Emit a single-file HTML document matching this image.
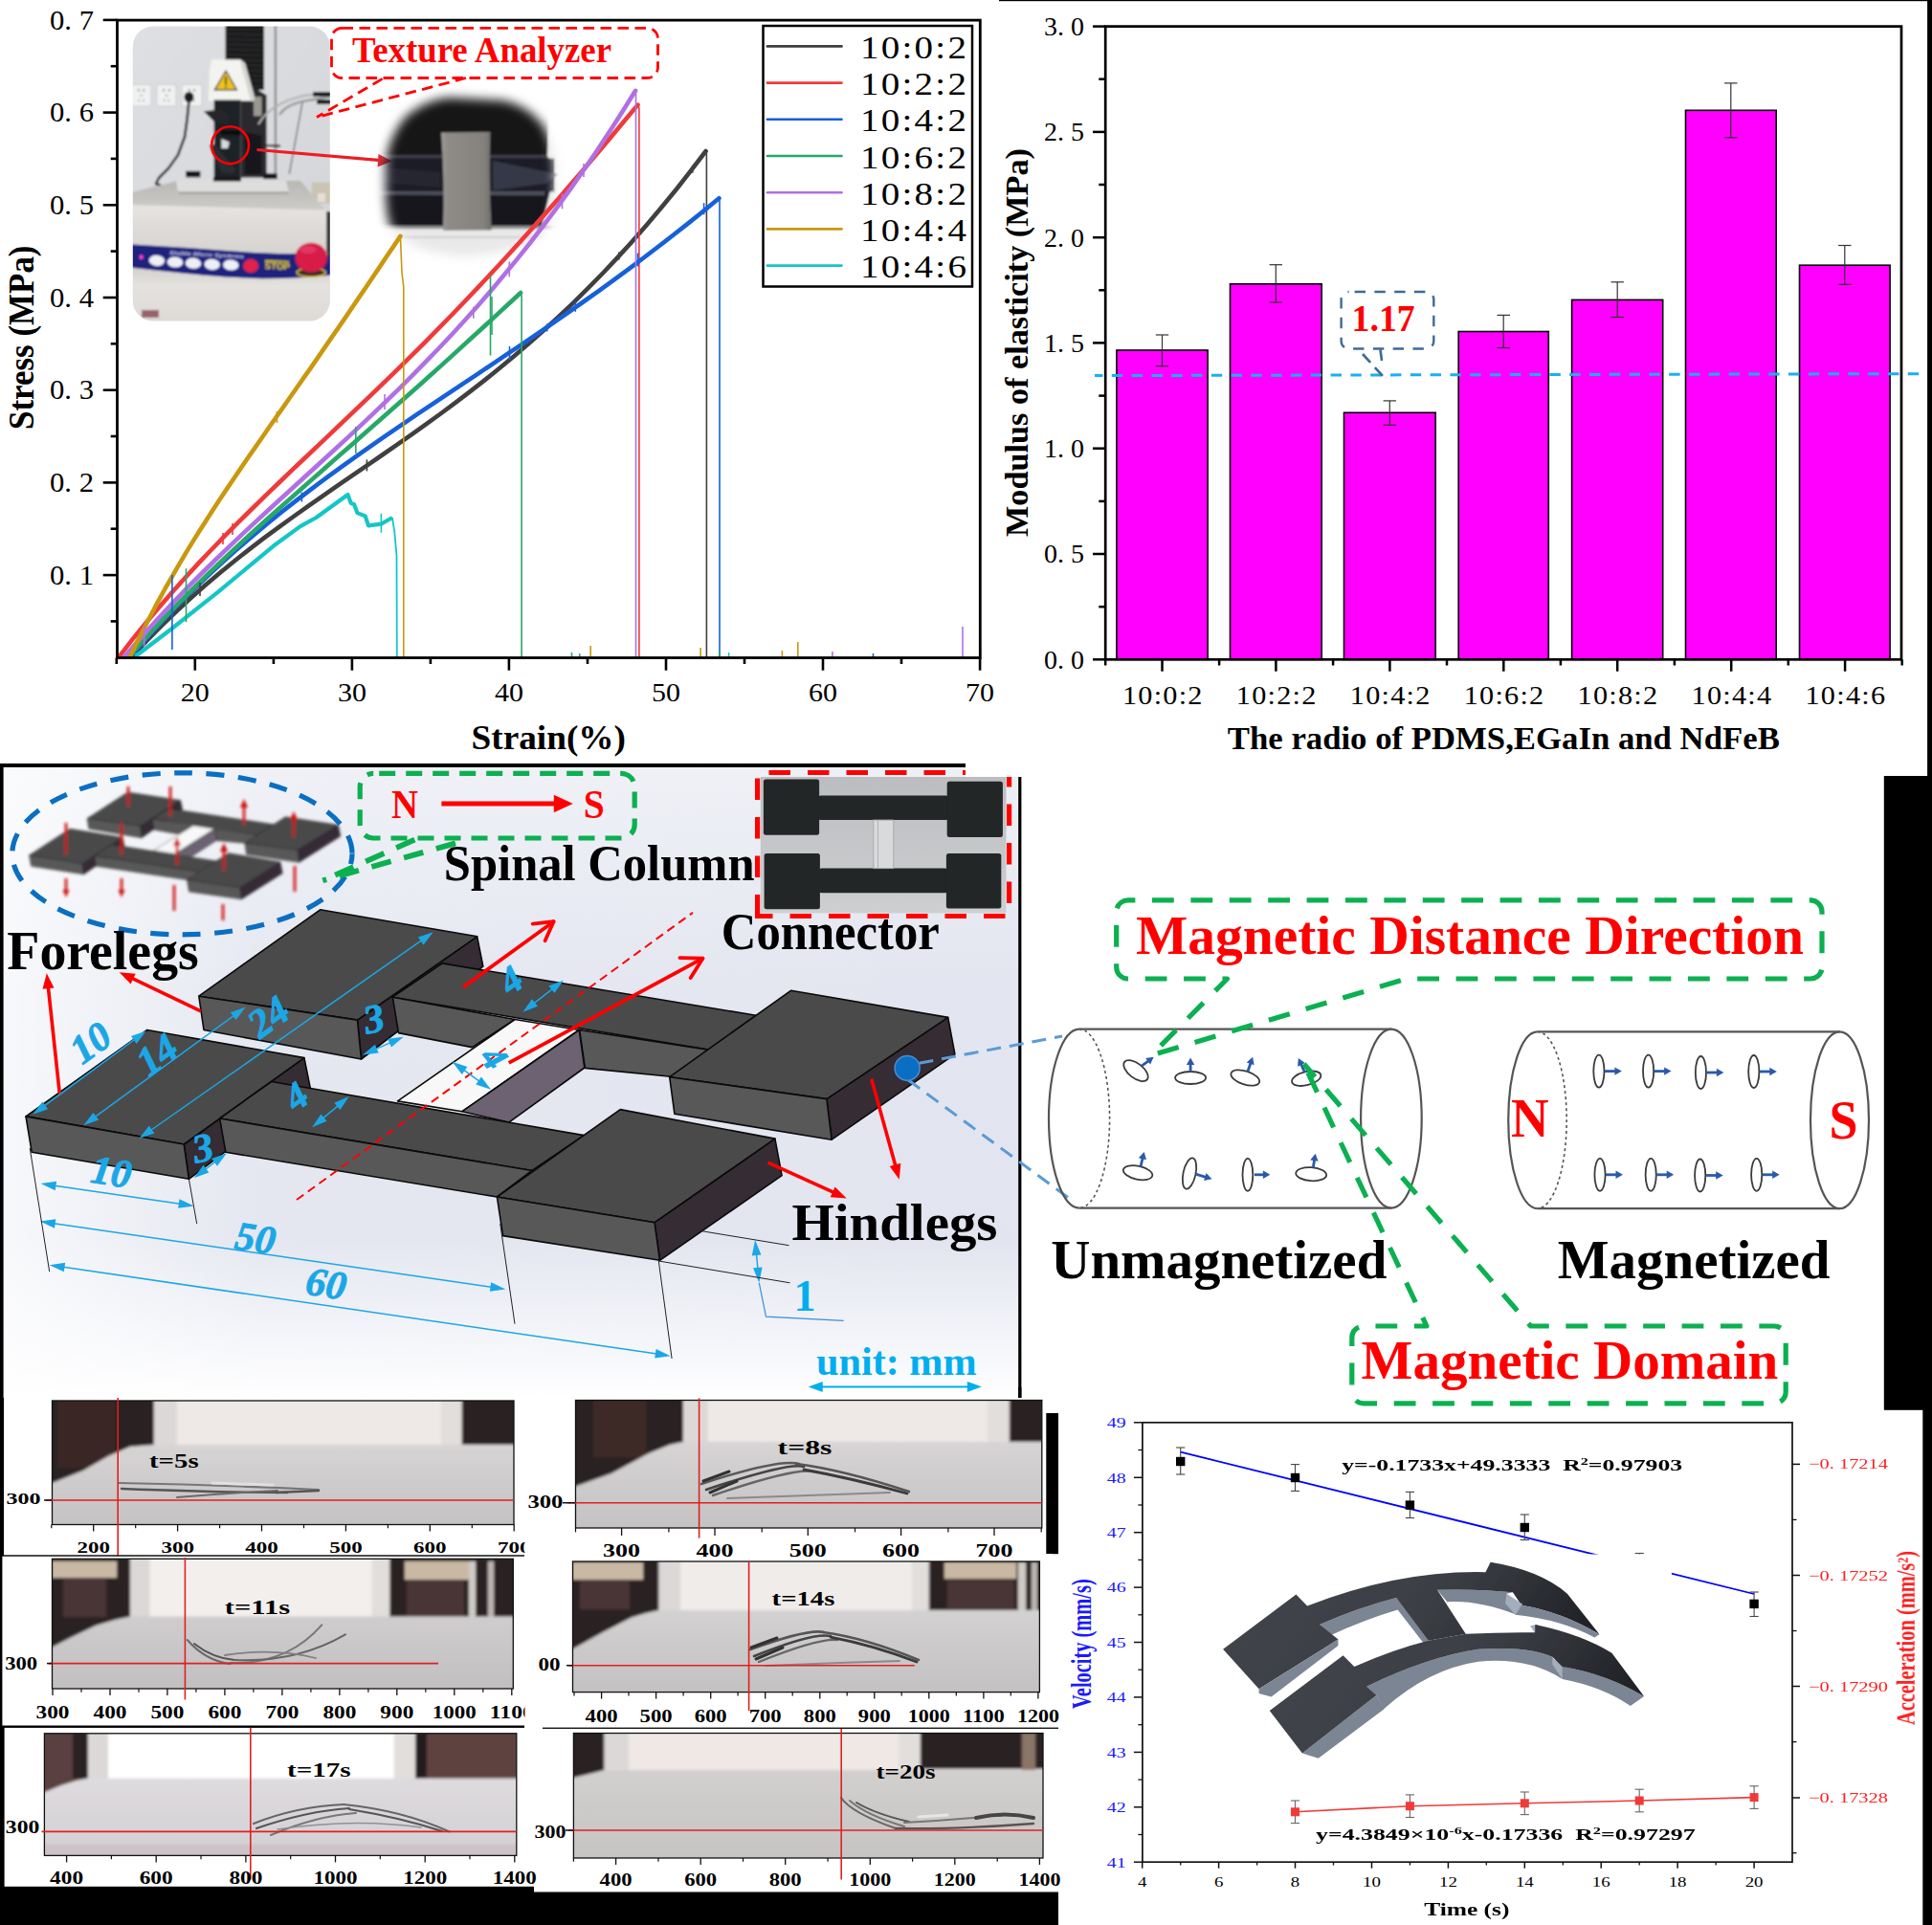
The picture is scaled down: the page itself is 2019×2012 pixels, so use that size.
<!DOCTYPE html>
<html><head><meta charset="utf-8"><title>figure</title>
<style>html,body{margin:0;padding:0;background:#fff}svg{display:block}text{font-family:"Liberation Serif",serif}</style>
</head><body>
<svg width="2019" height="2012" viewBox="0 0 2019 2012">
<defs>
<clipPath id="taclip"><rect x="138.8" y="27.6" width="206" height="307.9" rx="21" ry="21"/></clipPath>
<linearGradient id="tawall" x1="0" y1="0" x2="1" y2="1"><stop offset="0" stop-color="#dfe0e3"/><stop offset="1" stop-color="#d2d4d8"/></linearGradient>
<linearGradient id="tatop" x1="0" y1="0" x2="0" y2="1"><stop offset="0" stop-color="#b9b7b4"/><stop offset="1" stop-color="#cfcdca"/></linearGradient>
<linearGradient id="tafront" x1="0" y1="0" x2="0" y2="1"><stop offset="0" stop-color="#e6e4e2"/><stop offset="1" stop-color="#d4d1ce"/></linearGradient>
<linearGradient id="talow" x1="0" y1="0" x2="0" y2="1"><stop offset="0" stop-color="#d0cdca"/><stop offset="0.35" stop-color="#e4e2df"/><stop offset="1" stop-color="#dddad6"/></linearGradient>
<filter id="blurT" x="-5%" y="-5%" width="110%" height="110%"><feGaussianBlur stdDeviation="0.8"/></filter>
<filter id="blurO" x="-30%" y="-30%" width="160%" height="160%"><feGaussianBlur stdDeviation="5.5"/></filter>
<mask id="ovmask"><path d="M403,190 Q400,150 424,122 Q445,104 470,102 L526,105 Q556,112 570,135 Q582,160 580,190 Q580,225 570,240 Q555,262 489,268 Q430,266 408,238 Q402,220 403,190 Z" fill="#fff" filter="url(#blurO)"/></mask>
<filter id="blurO2" x="-10%" y="-10%" width="120%" height="120%"><feGaussianBlur stdDeviation="1.2"/></filter>
<linearGradient id="pbg" x1="0" y1="0" x2="0" y2="1"><stop offset="0" stop-color="#eef0f6"/><stop offset="0.35" stop-color="#e3e6f0"/><stop offset="0.75" stop-color="#e2e5ef"/><stop offset="0.93" stop-color="#f6f7fb"/><stop offset="1" stop-color="#ffffff"/></linearGradient>
<linearGradient id="pbg2" x1="0" y1="0" x2="1" y2="0"><stop offset="0" stop-color="#fff" stop-opacity="0.75"/><stop offset="0.25" stop-color="#fff" stop-opacity="0.1"/><stop offset="1" stop-color="#fff" stop-opacity="0"/></linearGradient>
<filter id="blur2" x="-10%" y="-10%" width="120%" height="120%"><feGaussianBlur stdDeviation="1.4"/></filter>
<filter id="blur6" x="-20%" y="-20%" width="140%" height="140%"><feGaussianBlur stdDeviation="5"/></filter>
<radialGradient id="ellfade" cx="0.5" cy="0.5" r="0.5"><stop offset="0.7" stop-color="#fff" stop-opacity="0"/><stop offset="1" stop-color="#f3f4f9" stop-opacity="1"/></radialGradient>
<filter id="blurS" x="-5%" y="-5%" width="110%" height="110%"><feGaussianBlur stdDeviation="0.7"/></filter>
<g id="robot"><path d="M373.5,1066.1 L498.6,978.8 L504.8,1010.0 L377.5,1107.0 Z" fill="#352c34" stroke="#0a0a0a" stroke-width="1.6" stroke-linejoin="round"/>
<path d="M207.8,1041.2 L334.6,950.8 L498.6,978.8 L373.5,1066.1 Z" fill="#4a4a4a" stroke="#0a0a0a" stroke-width="1.6" stroke-linejoin="round"/>
<path d="M207.8,1041.2 L373.5,1066.1 L377.5,1107.0 L213.0,1076.5 Z" fill="#585858" stroke="#0a0a0a" stroke-width="1.6" stroke-linejoin="round"/>
<path d="M410.3,1042.2 L462.2,1006.9 L790.0,1061.3 L739.9,1097.1 Z" fill="#4a4a4a" stroke="#0a0a0a" stroke-width="1.6" stroke-linejoin="round"/>
<path d="M410.3,1042.2 L538.1,1065.5 L493.4,1094.6 L416.5,1079.6 Z" fill="#585858" stroke="#0a0a0a" stroke-width="1.6" stroke-linejoin="round"/>
<path d="M605.6,1076.5 L739.9,1097.1 L701.2,1125.3 L611.4,1116.4 Z" fill="#585858" stroke="#0a0a0a" stroke-width="1.6" stroke-linejoin="round"/>
<path d="M863.9,1148.6 L990.7,1063.4 L997.9,1101.8 L869.1,1191.2 Z" fill="#352c34" stroke="#0a0a0a" stroke-width="1.6" stroke-linejoin="round"/>
<path d="M699.7,1125.7 L826.5,1035.3 L990.7,1063.4 L863.9,1148.6 Z" fill="#4a4a4a" stroke="#0a0a0a" stroke-width="1.6" stroke-linejoin="round"/>
<path d="M699.7,1125.7 L863.9,1148.6 L869.1,1191.2 L704.9,1164.2 Z" fill="#585858" stroke="#0a0a0a" stroke-width="1.6" stroke-linejoin="round"/>
<path d="M538.1,1065.5 L605.2,1076.5 L483.0,1161.7 L415.5,1150.9 Z" fill="#f8f8f8" stroke="#0a0a0a" stroke-width="1.6" stroke-linejoin="round"/>
<path d="M605.2,1076.5 L610.8,1116.0 L531.8,1173.1 L483.0,1161.7 Z" fill="#6c6272" stroke="#0a0a0a" stroke-width="1.6" stroke-linejoin="round"/>
<path d="M192.2,1196.0 L317.9,1105.6 L324.2,1136.8 L197.4,1232.3 Z" fill="#352c34" stroke="#0a0a0a" stroke-width="1.6" stroke-linejoin="round"/>
<path d="M27.0,1166.9 L153.8,1076.5 L317.9,1105.6 L192.2,1196.0 Z" fill="#4a4a4a" stroke="#0a0a0a" stroke-width="1.6" stroke-linejoin="round"/>
<path d="M27.0,1166.9 L192.2,1196.0 L197.4,1232.3 L33.2,1204.3 Z" fill="#585858" stroke="#0a0a0a" stroke-width="1.6" stroke-linejoin="round"/>
<path d="M229.6,1169.0 L283.6,1130.5 L610.2,1186.6 L556.0,1223.5 Z" fill="#4a4a4a" stroke="#0a0a0a" stroke-width="1.6" stroke-linejoin="round"/>
<path d="M229.6,1169.0 L556.0,1223.5 L519.4,1251.0 L235.9,1204.3 Z" fill="#585858" stroke="#0a0a0a" stroke-width="1.6" stroke-linejoin="round"/>
<path d="M684.0,1277.7 L809.9,1190.1 L817.1,1228.6 L689.5,1317.3 Z" fill="#352c34" stroke="#0a0a0a" stroke-width="1.6" stroke-linejoin="round"/>
<path d="M519.4,1251.0 L648.2,1159.6 L809.9,1190.1 L684.0,1277.7 Z" fill="#4a4a4a" stroke="#0a0a0a" stroke-width="1.6" stroke-linejoin="round"/>
<path d="M519.4,1251.0 L684.0,1277.7 L689.5,1317.3 L525.6,1291.6 Z" fill="#585858" stroke="#0a0a0a" stroke-width="1.6" stroke-linejoin="round"/></g>
<filter id="blurP" x="-5%" y="-10%" width="110%" height="120%"><feGaussianBlur stdDeviation="1.6"/></filter>
<filter id="blurR" x="-5%" y="-20%" width="110%" height="140%"><feGaussianBlur stdDeviation="0.6"/></filter>
<linearGradient id="archdk" x1="0" y1="0" x2="1" y2="0.25"><stop offset="0" stop-color="#43464c"/><stop offset="0.6" stop-color="#3b3e44"/><stop offset="0.85" stop-color="#2c2e33"/><stop offset="1" stop-color="#222428"/></linearGradient>
</defs>
<rect width="2019" height="2012" fill="#fff"/>
<g id="p0_photo">
<g clip-path="url(#taclip)"><g filter="url(#blurT)">
<rect x="130.0" y="20.0" width="225.0" height="325.0" fill="url(#tawall)" />
<rect x="137" y="88.4" width="21" height="22.6" fill="#f0f1f1" stroke="#c4c6c8" stroke-width="0.8"/>
<rect x="144.0" y="93.0" width="1.5" height="2.5" fill="#777" />
<rect x="149.5" y="93.0" width="1.5" height="2.5" fill="#777" />
<rect x="146.8" y="99.0" width="1.4" height="2.0" fill="#888" />
<rect x="144.5" y="104.0" width="1.4" height="2.0" fill="#999" />
<rect x="149.1" y="104.0" width="1.4" height="2.0" fill="#999" />
<rect x="164" y="88.4" width="20" height="22.6" fill="#f0f1f1" stroke="#c4c6c8" stroke-width="0.8"/>
<rect x="170.5" y="93.0" width="1.5" height="2.5" fill="#777" />
<rect x="176.0" y="93.0" width="1.5" height="2.5" fill="#777" />
<rect x="173.3" y="99.0" width="1.4" height="2.0" fill="#888" />
<rect x="171.0" y="104.0" width="1.4" height="2.0" fill="#999" />
<rect x="175.6" y="104.0" width="1.4" height="2.0" fill="#999" />
<rect x="190" y="88.4" width="21" height="22.6" fill="#f0f1f1" stroke="#c4c6c8" stroke-width="0.8"/>
<rect x="197.0" y="93.0" width="1.5" height="2.5" fill="#777" />
<rect x="202.5" y="93.0" width="1.5" height="2.5" fill="#777" />
<rect x="199.8" y="99.0" width="1.4" height="2.0" fill="#888" />
<rect x="197.5" y="104.0" width="1.4" height="2.0" fill="#999" />
<rect x="202.1" y="104.0" width="1.4" height="2.0" fill="#999" />
<ellipse cx="197.5" cy="101.5" rx="5" ry="5.5" fill="#1a1a1c"/>
<polyline points="197.5,105.0 195.5,125.0 193.0,143.0 186.0,162.0 176.0,176.0 166.0,186.0 163.0,192.0 168.0,194.0" fill="none" stroke="#1c1c1e" stroke-width="2.6" stroke-linejoin="round"/>
<rect x="235.6" y="20.0" width="40.4" height="74.0" fill="#1b1b1d" />
<line x1="236.0" y1="30.0" x2="276.0" y2="31.0" stroke="#2e2e31" stroke-width="1.2" />
<line x1="236.0" y1="35.4" x2="276.0" y2="36.4" stroke="#2e2e31" stroke-width="1.2" />
<line x1="236.0" y1="40.8" x2="276.0" y2="41.8" stroke="#2e2e31" stroke-width="1.2" />
<line x1="236.0" y1="46.2" x2="276.0" y2="47.2" stroke="#2e2e31" stroke-width="1.2" />
<line x1="236.0" y1="51.6" x2="276.0" y2="52.6" stroke="#2e2e31" stroke-width="1.2" />
<line x1="236.0" y1="57.0" x2="276.0" y2="58.0" stroke="#2e2e31" stroke-width="1.2" />
<line x1="236.0" y1="62.4" x2="276.0" y2="63.4" stroke="#2e2e31" stroke-width="1.2" />
<line x1="236.0" y1="67.8" x2="276.0" y2="68.8" stroke="#2e2e31" stroke-width="1.2" />
<line x1="236.0" y1="73.2" x2="276.0" y2="74.2" stroke="#2e2e31" stroke-width="1.2" />
<line x1="236.0" y1="78.6" x2="276.0" y2="79.6" stroke="#2e2e31" stroke-width="1.2" />
<line x1="236.0" y1="84.0" x2="276.0" y2="85.0" stroke="#2e2e31" stroke-width="1.2" />
<line x1="236.0" y1="89.4" x2="276.0" y2="90.4" stroke="#2e2e31" stroke-width="1.2" />
<path d="M251.6,90.9 L265.1,90.9 L278.6,99.4 L278.6,185.5 L251.6,185.5 Z" fill="#2a2b2f" stroke="none" stroke-width="1" />
<path d="M265.1,101.1 L273.6,101.1 L273.6,121.3 L265.1,121.3 Z" fill="#9a9890" stroke="none" stroke-width="1" />
<path d="M255.8,138.2 L273.6,141.6 L273.6,182.1 L255.8,182.1 Z" fill="#15161a" stroke="none" stroke-width="1" />
<path d="M221.2,62.2 L251.0,62.2 L256.0,66.0 L265.5,100.0 L265.5,105.5 L217.8,105.5 L219.0,72.0 Z" fill="#f3f3ef" stroke="none" stroke-width="1" />
<path d="M251.0,62.2 L256.0,66.0 L265.5,100.0 L265.5,105.5 L262.0,105.5 L252.0,68.0 Z" fill="#d6d6d0" stroke="none" stroke-width="1" />
<path d="M236.1,74.2 L247.3,93.8 L224.4,93.8 Z" fill="#f0c31c" stroke="#222" stroke-width="1.3" />
<line x1="236.0" y1="80.0" x2="236.0" y2="88.5" stroke="#222" stroke-width="1.8" />
<circle cx="236" cy="91" r="0.9" fill="#222"/>
<path d="M223.7,104.5 L251.6,104.5 L251.6,188.9 L223.7,188.9 Z" fill="#1f2026" stroke="none" stroke-width="1" />
<path d="M212.8,116.3 L231.3,114.6 L239.8,121.3 L238.1,129.8 L224.6,128.1 Z" fill="#26272b" stroke="none" stroke-width="1" />
<path d="M231.3,136.5 L251.6,136.5 L251.6,141.6 L231.3,140.8 Z" fill="#0c0c0e" stroke="none" stroke-width="1" />
<path d="M218.7,151.7 L224.6,150.9 L246.5,177.1 L243.2,182.1 L231.3,180.5 Z" fill="#2c2d32" stroke="none" stroke-width="1" />
<path d="M231.3,145.0 L239.8,148.4 L238.1,155.1 L231.3,155.1 Z" fill="#d9dadc" stroke="none" stroke-width="1" />
<line x1="287.9" y1="20.0" x2="287.9" y2="183.0" stroke="#8c8c8c" stroke-width="2.4" />
<line x1="278.0" y1="152.0" x2="293.0" y2="152.6" stroke="#222" stroke-width="2.2" />
<path d="M292,120 Q300,108 322,105 L345,101" fill="none" stroke="#9a9a98" stroke-width="2.6"/>
<path d="M270,130 Q282,108 318,100 L345,97" fill="none" stroke="#b0b0ae" stroke-width="2"/>
<rect x="327.0" y="96.0" width="20.0" height="5.0" fill="#1c1c1e" />
<rect x="331.0" y="104.0" width="16.0" height="5.0" fill="#1c1c1e" />
<line x1="316.0" y1="107.0" x2="302.3" y2="182.0" stroke="#555" stroke-width="1.2" />
<path d="M184.0,189.0 L298.9,189.0 L301.0,199.9 L186.0,199.9 Z" fill="#dcdcda" stroke="none" stroke-width="1" />
<rect x="194.2" y="178.8" width="15.2" height="6.5" fill="#161618" />
<rect x="275.3" y="181.3" width="14.3" height="5.8" fill="#161618" />
<rect x="325.9" y="190.6" width="25.0" height="22.0" fill="#cbc3b4" />
<rect x="332.0" y="202.0" width="8.0" height="9.0" fill="#e8dfd6" />
<path d="M130.0,203.0 L185.7,188.9 L314.1,188.9 L341.1,221.0 L130.0,214.2 Z" fill="url(#tatop)" stroke="none" stroke-width="1" />
<path d="M184.0,189.0 L298.9,189.0 L302.0,200.5 L186.0,200.5 Z" fill="#dededc" stroke="none" stroke-width="1" />
<path d="M186.0,200.5 L302.0,200.5 L301.0,203.0 L187.0,203.0 Z" fill="#aaa8a6" stroke="none" stroke-width="1" />
<rect x="222.9" y="185.0" width="29.0" height="4.5" fill="#17181b" />
<path d="M130.0,213.9 L341.1,219.5 L345.0,226.0 L345.0,270.0 L130.0,258.0 Z" fill="url(#tafront)" stroke="none" stroke-width="1" />
<path d="M341.1,221.0 L347.0,221.0 L347.0,290.0 L341.1,262.0 Z" fill="#3a3a3c" stroke="none" stroke-width="1" />
<path d="M130.0,276.0 L345.0,284.0 L345.0,340.0 L130.0,340.0 Z" fill="url(#talow)" stroke="none" stroke-width="1" />
<path d="M130,255 L139.5,255.6 Q190,258.5 237.1,262.1 T308.6,265.1 L347,267.5 L347,287.5 Q310,291.5 272.9,291.3 Q240,290 213.3,287.7 T139.5,280 L130,279 Z" fill="#1e207e"/>
<ellipse cx="163.9" cy="272.3" rx="8.2" ry="5.6" fill="#eef0f6" transform="rotate(4 163.9 272.3)"/>
<ellipse cx="183" cy="274" rx="8.2" ry="5.6" fill="#eef0f6" transform="rotate(4 183 274)"/>
<ellipse cx="202" cy="275.2" rx="8.2" ry="5.6" fill="#eef0f6" transform="rotate(4 202 275.2)"/>
<ellipse cx="221.7" cy="276.4" rx="8.2" ry="5.6" fill="#eef0f6" transform="rotate(4 221.7 276.4)"/>
<ellipse cx="241.3" cy="277" rx="8.2" ry="5.6" fill="#eef0f6" transform="rotate(4 241.3 277)"/>
<circle cx="147.6" cy="268.7" r="2.2" fill="#ff40d0"/>
<ellipse cx="262.1" cy="277.9" rx="8" ry="7.2" fill="#e0204e"/>
<text x="276.4" y="281.0" font-size="9.5" fill="#e8d11c" font-weight="bold" textLength="26.5" lengthAdjust="spacingAndGlyphs" style="font-family:Liberation Sans,sans-serif" transform="rotate(2 276 281)">STOP</text>
<rect x="277.0" y="271.8" width="25.0" height="2.2" fill="#c8b81c" transform="rotate(2 277 272)"/>
<text x="177.0" y="266.0" font-size="5.5" fill="#c8cbe8" font-weight="bold" font-style="italic" textLength="78.0" lengthAdjust="spacingAndGlyphs" style="font-family:Liberation Sans,sans-serif" transform="rotate(3 177 266)">Stable Micro Systems</text>
<ellipse cx="325.2" cy="284.8" rx="15" ry="4.4" fill="#2a2a2a" stroke="#d8c020" stroke-width="1.6"/>
<ellipse cx="325.2" cy="269.3" rx="16.7" ry="15.5" fill="#d61a46"/>
<ellipse cx="322" cy="261" rx="9" ry="4" fill="#e8507a" opacity="0.55"/>
<rect x="148.0" y="324.0" width="18.0" height="8.0" fill="#7a3038" opacity="0.7"/>
</g></g>
<circle cx="240.6" cy="151.7" r="19.4" fill="none" stroke="#ff0000" stroke-width="2.6"/>
<line x1="268.5" y1="156.5" x2="398.0" y2="167.6" stroke="#ee1c24" stroke-width="3.2" />
<path d="M410.0,168.6 L395.5,161.0 L394.5,174.5 Z" fill="#e03038" stroke="none" stroke-width="1" />
<g mask="url(#ovmask)"><g filter="url(#blurO2)">
<rect x="385.0" y="90.0" width="215.0" height="195.0" fill="#f2f2f2" />
<rect x="385.0" y="90.0" width="190.0" height="147.0" fill="#15161c" />
<path d="M573.0,90.0 L600.0,90.0 L600.0,237.0 L566.0,237.0 L575.0,200.0 L585.0,183.0 L572.0,163.0 Z" fill="#e9e9ea" stroke="none" stroke-width="1" />
<path d="M390.0,100.0 L575.0,100.0 L572.0,163.0 L395.0,163.0 Z" fill="#121318" stroke="none" stroke-width="1" />
<path d="M395.0,162.0 L572.0,162.0 L572.0,165.5 L395.0,165.5 Z" fill="#3c3e4a" stroke="none" stroke-width="1" />
<rect x="390.0" y="165.5" width="190.0" height="35.0" fill="#1c1e27" />
<path d="M515.0,168.0 L584.0,182.0 L570.0,192.0 L515.0,199.0 Z" fill="#343746" stroke="none" stroke-width="1" />
<path d="M395.0,175.0 L460.0,180.0 L460.0,196.0 L395.0,190.0 Z" fill="#262833" stroke="none" stroke-width="1" />
<path d="M395.0,200.0 L569.0,200.0 L569.0,204.5 L395.0,203.5 Z" fill="#4c4e5a" stroke="none" stroke-width="1" />
<path d="M395.0,204.0 L569.0,204.5 L566.0,236.5 L395.0,236.5 Z" fill="#14151b" stroke="none" stroke-width="1" />
<rect x="385.0" y="236.0" width="215.0" height="3.5" fill="#8e8e90" />
<rect x="385.0" y="239.5" width="215.0" height="45.0" fill="#e9e9e9" />
<rect x="385.0" y="247.0" width="215.0" height="2.0" fill="#d0d0d0" />
<linearGradient id="smp" x1="0" y1="0" x2="1" y2="0"><stop offset="0" stop-color="#a09d99"/><stop offset="0.12" stop-color="#8f8c88"/><stop offset="0.85" stop-color="#85827e"/><stop offset="1" stop-color="#6f6c69"/></linearGradient>
<path d="M461,138.5 L512.5,138 Q510.5,190 513.8,240.6 L463,241 Q464.8,190 461,138.5 Z" fill="url(#smp)"/>
</g></g>
<rect x="346.5" y="29.3" width="341" height="52.2" rx="11" fill="none" stroke="#ff0000" stroke-width="2.8" stroke-dasharray="11.5 6.5"/>
<line x1="399.6" y1="82.4" x2="331.0" y2="122.5" stroke="#f00" stroke-width="2.8" stroke-dasharray="11.5 6.5"/>
<line x1="487.0" y1="81.5" x2="331.0" y2="122.5" stroke="#f00" stroke-width="2.8" stroke-dasharray="11.5 6.5"/>
<text x="368.0" y="64.7" font-size="37" fill="#f00" font-weight="bold" textLength="271.0" lengthAdjust="spacingAndGlyphs">Texture Analyzer</text>
</g>
<g id="p1_stress">
<polyline points="138.2,686.0 153.6,669.5 168.9,653.9 184.3,639.0 199.7,624.8 215.0,611.3 230.4,598.2 245.8,585.7 261.2,573.6 276.5,561.9 291.9,550.6 307.3,539.5 322.6,528.6 338.0,517.8 353.4,507.2 368.7,496.6 384.1,486.1 399.5,475.5 414.8,464.9 430.2,454.1 445.6,443.1 461.0,432.0 476.3,420.6 491.7,408.9 507.1,396.9 522.4,384.5 537.8,371.8 553.2,358.6 568.5,345.0 583.9,330.9 599.3,316.3 614.6,301.2 630.0,285.5 645.4,269.2 660.8,252.3 676.1,234.7 691.5,216.6 706.9,197.7 722.2,178.2 737.6,158.0" fill="none" stroke="#404040" stroke-width="4.6" stroke-linejoin="round" stroke-linecap="round"/>
<polyline points="737.6,158.0 738.4,161.0 738.4,687.5" fill="none" stroke="#404040" stroke-width="1.6" />
<polyline points="124.1,686.8 138.0,668.9 151.9,651.7 165.8,635.2 179.7,619.2 193.6,603.7 207.5,588.6 221.5,574.0 235.4,559.7 249.3,545.7 263.2,532.0 277.1,518.4 291.0,505.0 304.9,491.7 318.8,478.5 332.7,465.3 346.6,452.1 360.5,438.9 374.4,425.7 388.3,412.3 402.3,398.9 416.2,385.3 430.1,371.6 444.0,357.8 457.9,343.7 471.8,329.5 485.7,315.0 499.6,300.4 513.5,285.5 527.4,270.5 541.3,255.2 555.2,239.7 569.1,224.1 583.1,208.2 597.0,192.1 610.9,175.9 624.8,159.5 638.7,143.0 652.6,126.3 666.5,109.6" fill="none" stroke="#f03a3a" stroke-width="4.6" stroke-linejoin="round" stroke-linecap="round"/>
<polyline points="666.5,109.6 667.9,112.6 667.9,687.5" fill="none" stroke="#f03a3a" stroke-width="1.6" />
<polyline points="136.6,686.0 152.4,668.1 168.1,650.9 183.9,634.5 199.7,618.7 215.4,603.5 231.2,588.9 246.9,574.8 262.7,561.2 278.5,548.0 294.2,535.3 310.0,522.9 325.8,510.8 341.5,499.1 357.3,487.6 373.1,476.3 388.8,465.3 404.6,454.4 420.4,443.6 436.1,432.9 451.9,422.4 467.6,411.8 483.4,401.3 499.2,390.8 514.9,380.3 530.7,369.7 546.5,359.1 562.2,348.4 578.0,337.6 593.8,326.6 609.5,315.5 625.3,304.3 641.1,292.9 656.8,281.3 672.6,269.5 688.3,257.5 704.1,245.3 719.9,232.9 735.6,220.2 751.4,207.3" fill="none" stroke="#1660dc" stroke-width="4.6" stroke-linejoin="round" stroke-linecap="round"/>
<polyline points="751.4,207.3 752.0,210.3 752.0,687.5" fill="none" stroke="#1660dc" stroke-width="1.6" />
<polyline points="134.9,686.0 145.4,674.2 155.9,662.7 166.4,651.4 176.9,640.4 187.4,629.7 197.9,619.1 208.3,608.8 218.8,598.6 229.3,588.6 239.8,578.7 250.3,569.0 260.8,559.3 271.3,549.8 281.8,540.3 292.3,531.0 302.8,521.6 313.3,512.4 323.8,503.1 334.3,493.9 344.7,484.7 355.2,475.6 365.7,466.4 376.2,457.2 386.7,448.0 397.2,438.8 407.7,429.6 418.2,420.3 428.7,411.0 439.2,401.7 449.7,392.3 460.2,382.9 470.7,373.4 481.1,363.9 491.6,354.3 502.1,344.8 512.6,335.1 523.1,325.4 533.6,315.7 544.1,306.0" fill="none" stroke="#27a868" stroke-width="4.6" stroke-linejoin="round" stroke-linecap="round"/>
<polyline points="544.1,306.0 545.1,309.0 545.1,687.5" fill="none" stroke="#27a868" stroke-width="1.6" />
<polyline points="129.9,686.8 143.6,670.8 157.3,655.3 171.0,640.3 184.7,625.8 198.4,611.7 212.1,598.0 225.8,584.5 239.5,571.3 253.2,558.4 266.9,545.6 280.6,533.0 294.3,520.5 308.0,508.0 321.7,495.5 335.4,483.0 349.1,470.5 362.8,457.9 376.5,445.1 390.2,432.2 403.8,419.1 417.5,405.8 431.2,392.1 444.9,378.2 458.6,364.0 472.3,349.5 486.0,334.5 499.7,319.2 513.4,303.4 527.1,287.1 540.8,270.4 554.5,253.2 568.2,235.4 581.9,217.1 595.6,198.3 609.3,178.8 623.0,158.8 636.7,138.1 650.4,116.8 664.1,94.8" fill="none" stroke="#b070e4" stroke-width="4.6" stroke-linejoin="round" stroke-linecap="round"/>
<polyline points="664.1,94.8 664.5,97.8 664.5,687.5" fill="none" stroke="#b070e4" stroke-width="1.6" />
<polyline points="136.6,685.1 143.8,670.1 151.1,655.7 158.3,641.7 165.5,628.2 172.7,615.0 180.0,602.3 187.2,589.9 194.4,577.7 201.6,565.9 208.9,554.3 216.1,542.9 223.3,531.8 230.5,520.7 237.8,509.9 245.0,499.2 252.2,488.6 259.4,478.0 266.7,467.6 273.9,457.2 281.1,446.8 288.3,436.5 295.6,426.1 302.8,415.8 310.0,405.5 317.2,395.1 324.5,384.8 331.7,374.4 338.9,363.9 346.1,353.4 353.4,342.9 360.6,332.4 367.8,321.8 375.0,311.1 382.3,300.5 389.5,289.8 396.7,279.1 403.9,268.3 411.2,257.6 418.4,246.8" fill="none" stroke="#c9980e" stroke-width="4.6" stroke-linejoin="round" stroke-linecap="round"/>
<polyline points="418.4,246.8 420.0,285.0 421.8,300.0 421.8,687.5" fill="none" stroke="#c9980e" stroke-width="1.6" />
<polyline points="141.5,686.0 179.6,657.0 227.7,618.9 285.6,570.8 313.8,550.1 330.4,541.0 363.5,517.0 366.8,526.1 370.0,527.0 373.4,536.1 381.7,539.4 385.0,549.3 398.3,547.7 409.9,541.0" fill="none" stroke="#14c6c6" stroke-width="4.2" stroke-linejoin="round"/>
<polyline points="409.9,541.0 412.3,555.9 414.5,580.8 414.8,687.5" fill="none" stroke="#14c6c6" stroke-width="1.8" />
<line x1="179.9" y1="601.0" x2="179.9" y2="679.0" stroke="#1660dc" stroke-width="1.6" />
<line x1="194.5" y1="594.2" x2="194.5" y2="650.2" stroke="#27a868" stroke-width="1.6" />
<line x1="150.7" y1="654.0" x2="150.7" y2="676.0" stroke="#b070e4" stroke-width="1.6" />
<line x1="289.4" y1="430.0" x2="289.4" y2="442.0" stroke="#c9980e" stroke-width="1.6" />
<line x1="402.0" y1="412.0" x2="402.0" y2="428.0" stroke="#b070e4" stroke-width="1.6" />
<line x1="371.8" y1="445.9" x2="371.8" y2="473.9" stroke="#27a868" stroke-width="1.6" />
<line x1="512.5" y1="288.5" x2="512.5" y2="371.5" stroke="#27a868" stroke-width="1.6" />
<line x1="514.0" y1="310.0" x2="514.0" y2="350.0" stroke="#27a868" stroke-width="1.6" />
<line x1="532.3" y1="273.3" x2="532.3" y2="289.3" stroke="#b070e4" stroke-width="1.6" />
<line x1="587.5" y1="202.3" x2="587.5" y2="218.3" stroke="#b070e4" stroke-width="1.6" />
<line x1="735.6" y1="212.2" x2="735.6" y2="224.2" stroke="#1660dc" stroke-width="1.6" />
<line x1="666.5" y1="264.5" x2="666.5" y2="278.5" stroke="#1660dc" stroke-width="1.6" />
<line x1="398.4" y1="536.7" x2="398.4" y2="556.7" stroke="#14c6c6" stroke-width="1.6" />
<line x1="233.0" y1="557.0" x2="233.0" y2="569.0" stroke="#f03a3a" stroke-width="1.6" />
<line x1="243.0" y1="547.0" x2="243.0" y2="559.0" stroke="#f03a3a" stroke-width="1.6" />
<line x1="383.4" y1="480.4" x2="383.4" y2="492.4" stroke="#404040" stroke-width="1.6" />
<line x1="532.5" y1="362.0" x2="532.5" y2="376.0" stroke="#1660dc" stroke-width="1.6" />
<line x1="601.3" y1="315.8" x2="601.3" y2="325.8" stroke="#1660dc" stroke-width="1.6" />
<line x1="571.7" y1="338.5" x2="571.7" y2="346.5" stroke="#1660dc" stroke-width="1.6" />
<line x1="494.8" y1="320.8" x2="494.8" y2="332.8" stroke="#b070e4" stroke-width="1.6" />
<line x1="610.0" y1="171.0" x2="610.0" y2="185.0" stroke="#b070e4" stroke-width="1.6" />
<line x1="315.4" y1="514.5" x2="315.4" y2="524.5" stroke="#1660dc" stroke-width="1.6" />
<line x1="209.0" y1="609.0" x2="209.0" y2="623.0" stroke="#404040" stroke-width="1.6" />
<line x1="646.8" y1="263.5" x2="646.8" y2="271.5" stroke="#404040" stroke-width="1.6" />
<line x1="723.7" y1="172.7" x2="723.7" y2="180.7" stroke="#404040" stroke-width="1.6" />
<line x1="617.2" y1="675.0" x2="617.2" y2="687.0" stroke="#c9980e" stroke-width="1.6" />
<line x1="732.1" y1="677.0" x2="732.1" y2="687.0" stroke="#c9980e" stroke-width="1.6" />
<line x1="817.4" y1="680.0" x2="817.4" y2="687.0" stroke="#c9980e" stroke-width="1.6" />
<line x1="833.8" y1="671.0" x2="833.8" y2="687.0" stroke="#c9980e" stroke-width="1.6" />
<line x1="597.5" y1="682.0" x2="597.5" y2="687.0" stroke="#27a868" stroke-width="1.6" />
<line x1="605.7" y1="683.0" x2="605.7" y2="687.0" stroke="#27a868" stroke-width="1.6" />
<line x1="751.8" y1="681.0" x2="751.8" y2="687.0" stroke="#27a868" stroke-width="1.6" />
<line x1="1006.0" y1="655.0" x2="1006.0" y2="687.0" stroke="#b070e4" stroke-width="1.6" />
<line x1="869.9" y1="681.0" x2="869.9" y2="687.0" stroke="#b070e4" stroke-width="1.6" />
<line x1="761.6" y1="682.0" x2="761.6" y2="687.0" stroke="#14c6c6" stroke-width="1.6" />
<line x1="912.5" y1="683.0" x2="912.5" y2="687.0" stroke="#1660dc" stroke-width="1.6" />
<rect x="122.5" y="21.1" width="901.8" height="666.4" fill="none" stroke="#000" stroke-width="2.8"/>
<line x1="107.7" y1="601.1" x2="122.5" y2="601.1" stroke="#000" stroke-width="2.6" />
<text x="98.0" y="610.7" font-size="28.7" fill="#000" text-anchor="end" textLength="46.0" lengthAdjust="spacingAndGlyphs">0. 1</text>
<line x1="107.7" y1="504.4" x2="122.5" y2="504.4" stroke="#000" stroke-width="2.6" />
<text x="98.0" y="514.0" font-size="28.7" fill="#000" text-anchor="end" textLength="46.0" lengthAdjust="spacingAndGlyphs">0. 2</text>
<line x1="107.7" y1="407.7" x2="122.5" y2="407.7" stroke="#000" stroke-width="2.6" />
<text x="98.0" y="417.3" font-size="28.7" fill="#000" text-anchor="end" textLength="46.0" lengthAdjust="spacingAndGlyphs">0. 3</text>
<line x1="107.7" y1="311.0" x2="122.5" y2="311.0" stroke="#000" stroke-width="2.6" />
<text x="98.0" y="320.6" font-size="28.7" fill="#000" text-anchor="end" textLength="46.0" lengthAdjust="spacingAndGlyphs">0. 4</text>
<line x1="107.7" y1="214.3" x2="122.5" y2="214.3" stroke="#000" stroke-width="2.6" />
<text x="98.0" y="223.9" font-size="28.7" fill="#000" text-anchor="end" textLength="46.0" lengthAdjust="spacingAndGlyphs">0. 5</text>
<line x1="107.7" y1="117.6" x2="122.5" y2="117.6" stroke="#000" stroke-width="2.6" />
<text x="98.0" y="127.2" font-size="28.7" fill="#000" text-anchor="end" textLength="46.0" lengthAdjust="spacingAndGlyphs">0. 6</text>
<line x1="107.7" y1="20.9" x2="122.5" y2="20.9" stroke="#000" stroke-width="2.6" />
<text x="98.0" y="30.5" font-size="28.7" fill="#000" text-anchor="end" textLength="46.0" lengthAdjust="spacingAndGlyphs">0. 7</text>
<line x1="115.7" y1="649.4" x2="122.5" y2="649.4" stroke="#000" stroke-width="2.6" />
<line x1="115.7" y1="552.7" x2="122.5" y2="552.7" stroke="#000" stroke-width="2.6" />
<line x1="115.7" y1="456.0" x2="122.5" y2="456.0" stroke="#000" stroke-width="2.6" />
<line x1="115.7" y1="359.3" x2="122.5" y2="359.3" stroke="#000" stroke-width="2.6" />
<line x1="115.7" y1="262.6" x2="122.5" y2="262.6" stroke="#000" stroke-width="2.6" />
<line x1="115.7" y1="165.9" x2="122.5" y2="165.9" stroke="#000" stroke-width="2.6" />
<line x1="115.7" y1="69.2" x2="122.5" y2="69.2" stroke="#000" stroke-width="2.6" />
<line x1="203.8" y1="687.5" x2="203.8" y2="700.7" stroke="#000" stroke-width="2.6" />
<text x="203.8" y="733.4" font-size="28" fill="#000" text-anchor="middle" textLength="30.0" lengthAdjust="spacingAndGlyphs">20</text>
<line x1="367.9" y1="687.5" x2="367.9" y2="700.7" stroke="#000" stroke-width="2.6" />
<text x="367.9" y="733.4" font-size="28" fill="#000" text-anchor="middle" textLength="30.0" lengthAdjust="spacingAndGlyphs">30</text>
<line x1="531.9" y1="687.5" x2="531.9" y2="700.7" stroke="#000" stroke-width="2.6" />
<text x="531.9" y="733.4" font-size="28" fill="#000" text-anchor="middle" textLength="30.0" lengthAdjust="spacingAndGlyphs">40</text>
<line x1="696.0" y1="687.5" x2="696.0" y2="700.7" stroke="#000" stroke-width="2.6" />
<text x="696.0" y="733.4" font-size="28" fill="#000" text-anchor="middle" textLength="30.0" lengthAdjust="spacingAndGlyphs">50</text>
<line x1="860.0" y1="687.5" x2="860.0" y2="700.7" stroke="#000" stroke-width="2.6" />
<text x="860.0" y="733.4" font-size="28" fill="#000" text-anchor="middle" textLength="30.0" lengthAdjust="spacingAndGlyphs">60</text>
<line x1="1024.1" y1="687.5" x2="1024.1" y2="700.7" stroke="#000" stroke-width="2.6" />
<text x="1024.1" y="733.4" font-size="28" fill="#000" text-anchor="middle" textLength="30.0" lengthAdjust="spacingAndGlyphs">70</text>
<line x1="121.8" y1="687.5" x2="121.8" y2="694.0" stroke="#000" stroke-width="2.6" />
<line x1="285.9" y1="687.5" x2="285.9" y2="694.0" stroke="#000" stroke-width="2.6" />
<line x1="449.9" y1="687.5" x2="449.9" y2="694.0" stroke="#000" stroke-width="2.6" />
<line x1="614.0" y1="687.5" x2="614.0" y2="694.0" stroke="#000" stroke-width="2.6" />
<line x1="778.0" y1="687.5" x2="778.0" y2="694.0" stroke="#000" stroke-width="2.6" />
<line x1="942.0" y1="687.5" x2="942.0" y2="694.0" stroke="#000" stroke-width="2.6" />
<text x="35.4" y="449.0" font-size="38" fill="#000" font-weight="bold" textLength="192.5" lengthAdjust="spacingAndGlyphs" transform="rotate(-90 35.4 449.0)">Stress (MPa)</text>
<text x="492.5" y="782.5" font-size="35" fill="#000" font-weight="bold" textLength="161.5" lengthAdjust="spacingAndGlyphs">Strain(%)</text>
<rect x="797.5" y="27" width="218.5" height="272.5" fill="#fff" stroke="#000" stroke-width="2.5"/>
<line x1="801.8" y1="48.4" x2="879.5" y2="48.4" stroke="#404040" stroke-width="2.6" stroke-linecap="round"/>
<text transform="translate(899.0 61.0) scale(1.15 1)" font-size="34" fill="#000" textLength="96.5" lengthAdjust="spacing">10:0:2</text>
<line x1="801.8" y1="86.6" x2="879.5" y2="86.6" stroke="#f03a3a" stroke-width="2.6" stroke-linecap="round"/>
<text transform="translate(899.0 99.2) scale(1.15 1)" font-size="34" fill="#000" textLength="96.5" lengthAdjust="spacing">10:2:2</text>
<line x1="801.8" y1="124.8" x2="879.5" y2="124.8" stroke="#1660dc" stroke-width="2.6" stroke-linecap="round"/>
<text transform="translate(899.0 137.4) scale(1.15 1)" font-size="34" fill="#000" textLength="96.5" lengthAdjust="spacing">10:4:2</text>
<line x1="801.8" y1="163.0" x2="879.5" y2="163.0" stroke="#27a868" stroke-width="2.6" stroke-linecap="round"/>
<text transform="translate(899.0 175.6) scale(1.15 1)" font-size="34" fill="#000" textLength="96.5" lengthAdjust="spacing">10:6:2</text>
<line x1="801.8" y1="201.2" x2="879.5" y2="201.2" stroke="#b070e4" stroke-width="2.6" stroke-linecap="round"/>
<text transform="translate(899.0 213.8) scale(1.15 1)" font-size="34" fill="#000" textLength="96.5" lengthAdjust="spacing">10:8:2</text>
<line x1="801.8" y1="239.4" x2="879.5" y2="239.4" stroke="#c9980e" stroke-width="2.6" stroke-linecap="round"/>
<text transform="translate(899.0 252.0) scale(1.15 1)" font-size="34" fill="#000" textLength="96.5" lengthAdjust="spacing">10:4:4</text>
<line x1="801.8" y1="277.6" x2="879.5" y2="277.6" stroke="#14c6c6" stroke-width="2.6" stroke-linecap="round"/>
<text transform="translate(899.0 290.2) scale(1.15 1)" font-size="34" fill="#000" textLength="96.5" lengthAdjust="spacing">10:4:6</text>
</g>
<g id="p2_bars">
<rect x="1044.0" y="0.0" width="975.0" height="1.2" fill="#000" />
<rect x="1166.9" y="366" width="95.2" height="323.3" fill="#ff00ff" stroke="#000" stroke-width="1.6"/>
<line x1="1214.5" y1="350.0" x2="1214.5" y2="382.7" stroke="#333" stroke-width="1.2" />
<line x1="1207.8" y1="350.0" x2="1221.2" y2="350.0" stroke="#333" stroke-width="1.2" />
<line x1="1207.8" y1="382.7" x2="1221.2" y2="382.7" stroke="#333" stroke-width="1.2" />
<rect x="1285.5" y="296.8" width="95.7" height="392.5" fill="#ff00ff" stroke="#000" stroke-width="1.6"/>
<line x1="1333.3" y1="276.7" x2="1333.3" y2="316.0" stroke="#333" stroke-width="1.2" />
<line x1="1326.6" y1="276.7" x2="1340.0" y2="276.7" stroke="#333" stroke-width="1.2" />
<line x1="1326.6" y1="316.0" x2="1340.0" y2="316.0" stroke="#333" stroke-width="1.2" />
<rect x="1404.5" y="431.3" width="95.7" height="258.0" fill="#ff00ff" stroke="#000" stroke-width="1.6"/>
<line x1="1452.3" y1="418.9" x2="1452.3" y2="444.2" stroke="#333" stroke-width="1.2" />
<line x1="1445.6" y1="418.9" x2="1459.0" y2="418.9" stroke="#333" stroke-width="1.2" />
<line x1="1445.6" y1="444.2" x2="1459.0" y2="444.2" stroke="#333" stroke-width="1.2" />
<rect x="1524.2" y="346.5" width="94.1" height="342.8" fill="#ff00ff" stroke="#000" stroke-width="1.6"/>
<line x1="1571.2" y1="329.4" x2="1571.2" y2="363.5" stroke="#333" stroke-width="1.2" />
<line x1="1564.5" y1="329.4" x2="1578.0" y2="329.4" stroke="#333" stroke-width="1.2" />
<line x1="1564.5" y1="363.5" x2="1578.0" y2="363.5" stroke="#333" stroke-width="1.2" />
<rect x="1642.6" y="313.4" width="95.1" height="375.9" fill="#ff00ff" stroke="#000" stroke-width="1.6"/>
<line x1="1690.2" y1="294.8" x2="1690.2" y2="331.5" stroke="#333" stroke-width="1.2" />
<line x1="1683.5" y1="294.8" x2="1696.9" y2="294.8" stroke="#333" stroke-width="1.2" />
<line x1="1683.5" y1="331.5" x2="1696.9" y2="331.5" stroke="#333" stroke-width="1.2" />
<rect x="1761.5" y="115.3" width="94.7" height="574.0" fill="#ff00ff" stroke="#000" stroke-width="1.6"/>
<line x1="1808.8" y1="86.9" x2="1808.8" y2="143.8" stroke="#333" stroke-width="1.2" />
<line x1="1802.1" y1="86.9" x2="1815.5" y2="86.9" stroke="#333" stroke-width="1.2" />
<line x1="1802.1" y1="143.8" x2="1815.5" y2="143.8" stroke="#333" stroke-width="1.2" />
<rect x="1880.5" y="277.2" width="94.6" height="412.1" fill="#ff00ff" stroke="#000" stroke-width="1.6"/>
<line x1="1927.8" y1="256.5" x2="1927.8" y2="297.3" stroke="#333" stroke-width="1.2" />
<line x1="1921.1" y1="256.5" x2="1934.5" y2="256.5" stroke="#333" stroke-width="1.2" />
<line x1="1921.1" y1="297.3" x2="1934.5" y2="297.3" stroke="#333" stroke-width="1.2" />
<rect x="1155.2" y="27.6" width="831.8" height="661.7" fill="none" stroke="#000" stroke-width="2.7"/>
<line x1="1142.0" y1="689.3" x2="1155.2" y2="689.3" stroke="#000" stroke-width="2.5" />
<text x="1133.0" y="698.6" font-size="26.6" fill="#000" text-anchor="end" textLength="42.0" lengthAdjust="spacingAndGlyphs">0. 0</text>
<line x1="1142.0" y1="579.0" x2="1155.2" y2="579.0" stroke="#000" stroke-width="2.5" />
<text x="1133.0" y="588.3" font-size="26.6" fill="#000" text-anchor="end" textLength="42.0" lengthAdjust="spacingAndGlyphs">0. 5</text>
<line x1="1142.0" y1="468.7" x2="1155.2" y2="468.7" stroke="#000" stroke-width="2.5" />
<text x="1133.0" y="478.0" font-size="26.6" fill="#000" text-anchor="end" textLength="42.0" lengthAdjust="spacingAndGlyphs">1. 0</text>
<line x1="1142.0" y1="358.4" x2="1155.2" y2="358.4" stroke="#000" stroke-width="2.5" />
<text x="1133.0" y="367.7" font-size="26.6" fill="#000" text-anchor="end" textLength="42.0" lengthAdjust="spacingAndGlyphs">1. 5</text>
<line x1="1142.0" y1="248.2" x2="1155.2" y2="248.2" stroke="#000" stroke-width="2.5" />
<text x="1133.0" y="257.5" font-size="26.6" fill="#000" text-anchor="end" textLength="42.0" lengthAdjust="spacingAndGlyphs">2. 0</text>
<line x1="1142.0" y1="137.9" x2="1155.2" y2="137.9" stroke="#000" stroke-width="2.5" />
<text x="1133.0" y="147.2" font-size="26.6" fill="#000" text-anchor="end" textLength="42.0" lengthAdjust="spacingAndGlyphs">2. 5</text>
<line x1="1142.0" y1="27.6" x2="1155.2" y2="27.6" stroke="#000" stroke-width="2.5" />
<text x="1133.0" y="36.9" font-size="26.6" fill="#000" text-anchor="end" textLength="42.0" lengthAdjust="spacingAndGlyphs">3. 0</text>
<line x1="1148.3" y1="634.2" x2="1155.2" y2="634.2" stroke="#000" stroke-width="2.5" />
<line x1="1148.3" y1="523.9" x2="1155.2" y2="523.9" stroke="#000" stroke-width="2.5" />
<line x1="1148.3" y1="413.6" x2="1155.2" y2="413.6" stroke="#000" stroke-width="2.5" />
<line x1="1148.3" y1="303.3" x2="1155.2" y2="303.3" stroke="#000" stroke-width="2.5" />
<line x1="1148.3" y1="193.0" x2="1155.2" y2="193.0" stroke="#000" stroke-width="2.5" />
<line x1="1148.3" y1="82.7" x2="1155.2" y2="82.7" stroke="#000" stroke-width="2.5" />
<line x1="1214.5" y1="689.3" x2="1214.5" y2="701.7" stroke="#000" stroke-width="2.5" />
<text transform="translate(1172.9 735.5) scale(1.12 1)" font-size="27" fill="#000" textLength="74.6" lengthAdjust="spacing">10:0:2</text>
<line x1="1333.4" y1="689.3" x2="1333.4" y2="701.7" stroke="#000" stroke-width="2.5" />
<text transform="translate(1291.8 735.5) scale(1.12 1)" font-size="27" fill="#000" textLength="74.6" lengthAdjust="spacing">10:2:2</text>
<line x1="1452.4" y1="689.3" x2="1452.4" y2="701.7" stroke="#000" stroke-width="2.5" />
<text transform="translate(1410.8 735.5) scale(1.12 1)" font-size="27" fill="#000" textLength="74.6" lengthAdjust="spacing">10:4:2</text>
<line x1="1571.3" y1="689.3" x2="1571.3" y2="701.7" stroke="#000" stroke-width="2.5" />
<text transform="translate(1529.7 735.5) scale(1.12 1)" font-size="27" fill="#000" textLength="74.6" lengthAdjust="spacing">10:6:2</text>
<line x1="1690.2" y1="689.3" x2="1690.2" y2="701.7" stroke="#000" stroke-width="2.5" />
<text transform="translate(1648.6 735.5) scale(1.12 1)" font-size="27" fill="#000" textLength="74.6" lengthAdjust="spacing">10:8:2</text>
<line x1="1809.2" y1="689.3" x2="1809.2" y2="701.7" stroke="#000" stroke-width="2.5" />
<text transform="translate(1767.6 735.5) scale(1.12 1)" font-size="27" fill="#000" textLength="74.6" lengthAdjust="spacing">10:4:4</text>
<line x1="1928.1" y1="689.3" x2="1928.1" y2="701.7" stroke="#000" stroke-width="2.5" />
<text transform="translate(1886.5 735.5) scale(1.12 1)" font-size="27" fill="#000" textLength="74.6" lengthAdjust="spacing">10:4:6</text>
<line x1="1155.2" y1="689.3" x2="1155.2" y2="695.5" stroke="#000" stroke-width="2.5" />
<line x1="1274.1" y1="689.3" x2="1274.1" y2="695.5" stroke="#000" stroke-width="2.5" />
<line x1="1393.1" y1="689.3" x2="1393.1" y2="695.5" stroke="#000" stroke-width="2.5" />
<line x1="1512.0" y1="689.3" x2="1512.0" y2="695.5" stroke="#000" stroke-width="2.5" />
<line x1="1630.9" y1="689.3" x2="1630.9" y2="695.5" stroke="#000" stroke-width="2.5" />
<line x1="1749.9" y1="689.3" x2="1749.9" y2="695.5" stroke="#000" stroke-width="2.5" />
<line x1="1868.8" y1="689.3" x2="1868.8" y2="695.5" stroke="#000" stroke-width="2.5" />
<line x1="1987.7" y1="689.3" x2="1987.7" y2="695.5" stroke="#000" stroke-width="2.5" />
<text x="1074.0" y="561.0" font-size="33" fill="#000" font-weight="bold" textLength="406.0" lengthAdjust="spacingAndGlyphs" transform="rotate(-90 1074.0 561.0)">Modulus of elasticity (MPa)</text>
<text x="1282.8" y="782.9" font-size="33.2" fill="#000" font-weight="bold" textLength="577.0" lengthAdjust="spacingAndGlyphs">The radio of PDMS,EGaIn and NdFeB</text>
<line x1="1144.0" y1="392.6" x2="2019.0" y2="390.6" stroke="#18b0f0" stroke-width="3" stroke-dasharray="11.4 9.4" stroke-dashoffset="3"/>
<rect x="1401.6" y="305" width="96.7" height="59.5" rx="8" fill="#fff" stroke="#3d6b96" stroke-width="2.4" stroke-dasharray="11.4 9.4" stroke-dashoffset="-6"/>
<polyline points="1424.0,370.0 1445.5,393.5" fill="none" stroke="#3d6b96" stroke-width="2.6" stroke-dasharray="12 7"/>
<polyline points="1442.5,365.5 1444.0,377.0" fill="none" stroke="#3d6b96" stroke-width="2.6" />
<text x="1412.6" y="346.2" font-size="39.5" fill="#ff0000" font-weight="bold" textLength="66.0" lengthAdjust="spacingAndGlyphs">1.17</text>
</g>
<g id="p3_robot">
<path d="M0,802 H1009 V812 H1064 V1461 H0 Z" fill="url(#pbg)"/>
<rect x="0" y="802" width="1064" height="659" fill="url(#pbg2)"/>
<rect x="0.0" y="798.0" width="1009.0" height="4.0" fill="#000" />
<rect x="0.0" y="798.0" width="3.6" height="678.0" fill="#000" />
<rect x="1064.2" y="812.0" width="3.2" height="649.0" fill="#000" />
<g filter="url(#blur2)"><use href="#robot" transform="translate(21.5,538) scale(0.335,0.305)"/>
<line x1="69.0" y1="860.0" x2="69.0" y2="893.0" stroke="#d01010" stroke-width="2.6" />
<line x1="127.0" y1="860.0" x2="127.0" y2="893.0" stroke="#d01010" stroke-width="2.6" />
<line x1="134.0" y1="822.0" x2="134.0" y2="843.0" stroke="#d01010" stroke-width="2.6" />
<line x1="178.0" y1="822.0" x2="178.0" y2="853.0" stroke="#d01010" stroke-width="2.6" />
<line x1="255.0" y1="862.0" x2="255.0" y2="842.2" stroke="#d01010" stroke-width="2.6" />
<path d="M255.0,835.0 L259.0,844.0 L251.0,844.0 Z" fill="#d01010" stroke="none" stroke-width="1" />
<line x1="307.0" y1="875.0" x2="307.0" y2="855.2" stroke="#d01010" stroke-width="2.6" />
<path d="M307.0,848.0 L311.0,857.0 L303.0,857.0 Z" fill="#d01010" stroke="none" stroke-width="1" />
<line x1="185.0" y1="904.0" x2="185.0" y2="882.2" stroke="#d01010" stroke-width="2.6" />
<path d="M185.0,875.0 L189.0,884.0 L181.0,884.0 Z" fill="#d01010" stroke="none" stroke-width="1" />
<line x1="234.0" y1="910.0" x2="234.0" y2="888.2" stroke="#d01010" stroke-width="2.6" />
<path d="M234.0,881.0 L238.0,890.0 L230.0,890.0 Z" fill="#d01010" stroke="none" stroke-width="1" />
<line x1="69.0" y1="918.0" x2="69.0" y2="931.6" stroke="#d01010" stroke-width="2.6" />
<path d="M69.0,938.0 L65.5,930.0 L72.5,930.0 Z" fill="#d01010" stroke="none" stroke-width="1" />
<line x1="127.0" y1="918.0" x2="127.0" y2="931.6" stroke="#d01010" stroke-width="2.6" />
<path d="M127.0,938.0 L123.5,930.0 L130.5,930.0 Z" fill="#d01010" stroke="none" stroke-width="1" />
<line x1="182.0" y1="925.0" x2="182.0" y2="952.0" stroke="#d01010" stroke-width="2.6" />
<line x1="233.0" y1="945.0" x2="233.0" y2="962.0" stroke="#d01010" stroke-width="2.6" />
<line x1="308.0" y1="905.0" x2="308.0" y2="932.0" stroke="#d01010" stroke-width="2.6" />
</g>
<ellipse cx="190.4" cy="892.3" rx="177.6" ry="84.5" fill="none" stroke="#0a6fc2" stroke-width="5.2" stroke-dasharray="19 14.5" stroke-dashoffset="8"/>
<rect x="376.2" y="808.4" width="287" height="67.6" rx="14" fill="none" stroke="#0bb050" stroke-width="5.2" stroke-dasharray="17 11" stroke-dashoffset="-6"/>
<line x1="437.0" y1="876.0" x2="337.3" y2="920.3" stroke="#0bb050" stroke-width="5.8" stroke-dasharray="21 14" stroke-dashoffset="-4"/>
<line x1="476.0" y1="881.4" x2="337.3" y2="920.3" stroke="#0bb050" stroke-width="5.8" stroke-dasharray="21 14" stroke-dashoffset="0"/>
<text x="409.0" y="855.3" font-size="41.6" fill="#f00" font-weight="bold" textLength="28.0" lengthAdjust="spacingAndGlyphs">N</text>
<text x="609.8" y="855.3" font-size="41.6" fill="#f00" font-weight="bold" textLength="22.0" lengthAdjust="spacingAndGlyphs">S</text>
<line x1="461.4" y1="840.0" x2="582.8" y2="840.0" stroke="#f00" stroke-width="4.9" />
<path d="M598.8,840.0 L578.8,849.2 L578.8,830.8 Z" fill="#f00" stroke="none" stroke-width="1" />
<text x="463.8" y="920.3" font-size="52" fill="#000" font-weight="bold" textLength="324.8" lengthAdjust="spacingAndGlyphs">Spinal Column</text>
<text x="753.8" y="992.4" font-size="54" fill="#000" font-weight="bold" textLength="228.0" lengthAdjust="spacingAndGlyphs">Connector</text>
<text x="7.3" y="1013.0" font-size="56" fill="#000" font-weight="bold" textLength="200.5" lengthAdjust="spacingAndGlyphs">Forelegs</text>
<use href="#robot"/>
<linearGradient id="phg" x1="0" y1="0" x2="0" y2="1"><stop offset="0" stop-color="#bcbdc0"/><stop offset="1" stop-color="#cecfd1"/></linearGradient>
<rect x="794.8" y="812" width="256.7" height="142.4" fill="url(#phg)"/>
<g filter="url(#blurS)">
<rect x="797.9" y="814.4" width="58.2" height="58.3" rx="2.5" fill="#232526"/>
<rect x="855" y="831.5" width="136.0" height="25.6" rx="2.5" fill="#232526"/>
<rect x="989.7" y="816.7" width="58.2" height="58.3" rx="2.5" fill="#232526"/>
<rect x="798.6" y="892.1" width="58.3" height="58.2" rx="2.5" fill="#232526"/>
<rect x="856" y="907.6" width="134.0" height="25.6" rx="2.5" fill="#232526"/>
<rect x="988.9" y="892.1" width="57.4" height="57.4" rx="2.5" fill="#232526"/>
<rect x="912.8" y="857.1" width="20.9" height="50.5" fill="#d9dadc" stroke="#aaacae" stroke-width="1"/><line x1="917.5" y1="858" x2="917.5" y2="907" stroke="#b0b2b4" stroke-width="1"/>
</g>
<path d="M1009,807.5 H791.6" stroke="#ff0000" stroke-width="5.2" stroke-dasharray="22.5 18" fill="none" stroke-dashoffset="19.5"/>
<path d="M791.6,813.5 V957.5" stroke="#ff0000" stroke-width="5.2" stroke-dasharray="22.5 18" fill="none" stroke-dashoffset="0"/>
<path d="M789,957.5 H1054.6" stroke="#ff0000" stroke-width="5.2" stroke-dasharray="22.5 18" fill="none" stroke-dashoffset="4"/>
<path d="M1054.6,812 V957.5" stroke="#ff0000" stroke-width="5.2" stroke-dasharray="22.5 18" fill="none" stroke-dashoffset="12"/>
<line x1="62.3" y1="1143.0" x2="50.2" y2="1030.0" stroke="#f00" stroke-width="3.6" />
<path d="M48.8,1017.3 L56.5,1032.6 L44.5,1033.8 Z" fill="#f00" stroke="none" stroke-width="1" />
<line x1="209.9" y1="1056.8" x2="136.3" y2="1021.7" stroke="#f00" stroke-width="3.6" />
<path d="M124.7,1016.2 L141.7,1017.7 L136.6,1028.5 Z" fill="#f00" stroke="none" stroke-width="1" />
<line x1="484.0" y1="1031.8" x2="578.6" y2="963.2" stroke="#f00" stroke-width="3.8" />
<line x1="578.6" y1="963.2" x2="569.6" y2="983.3" stroke="#f00" stroke-width="3.8" stroke-linecap="round"/>
<line x1="578.6" y1="963.2" x2="556.7" y2="965.6" stroke="#f00" stroke-width="3.8" stroke-linecap="round"/>
<line x1="531.8" y1="1110.8" x2="734.4" y2="1001.7" stroke="#f00" stroke-width="3.8" />
<line x1="734.4" y1="1001.7" x2="721.7" y2="1022.1" stroke="#f00" stroke-width="3.8" stroke-linecap="round"/>
<line x1="734.4" y1="1001.7" x2="710.4" y2="1001.1" stroke="#f00" stroke-width="3.8" stroke-linecap="round"/>
<line x1="910.7" y1="1127.8" x2="936.4" y2="1220.4" stroke="#f00" stroke-width="3.6" />
<path d="M939.8,1232.7 L929.7,1218.9 L941.3,1215.7 Z" fill="#f00" stroke="none" stroke-width="1" />
<line x1="802.6" y1="1215.1" x2="873.1" y2="1247.2" stroke="#f00" stroke-width="3.6" />
<path d="M884.7,1252.5 L867.7,1251.3 L872.6,1240.4 Z" fill="#f00" stroke="none" stroke-width="1" />
<line x1="310.0" y1="1254.0" x2="724.0" y2="953.9" stroke="#f00" stroke-width="2" stroke-dasharray="9 5.5"/>
<path d="M34.3,1164.8 L44.3,1151.4 L50.0,1159.2 Z" fill="#1ba7e6" stroke="none" stroke-width="1" />
<line x1="44.6" y1="1157.2" x2="142.4" y2="1085.1" stroke="#1ba7e6" stroke-width="1.5" />
<path d="M152.7,1077.5 L142.7,1090.9 L137.0,1083.1 Z" fill="#1ba7e6" stroke="none" stroke-width="1" />
<path d="M87.3,1176.2 L97.4,1162.9 L103.1,1170.6 Z" fill="#1ba7e6" stroke="none" stroke-width="1" />
<line x1="97.6" y1="1168.7" x2="246.3" y2="1060.1" stroke="#1ba7e6" stroke-width="1.5" />
<path d="M256.6,1052.6 L246.5,1065.9 L240.8,1058.2 Z" fill="#1ba7e6" stroke="none" stroke-width="1" />
<path d="M145.5,1189.8 L155.8,1176.7 L161.4,1184.5 Z" fill="#1ba7e6" stroke="none" stroke-width="1" />
<line x1="156.0" y1="1182.5" x2="442.3" y2="981.6" stroke="#1ba7e6" stroke-width="1.5" />
<path d="M452.8,974.3 L442.5,987.4 L436.9,979.6 Z" fill="#1ba7e6" stroke="none" stroke-width="1" />
<path d="M202.6,1231.3 L212.5,1217.8 L218.3,1225.5 Z" fill="#1ba7e6" stroke="none" stroke-width="1" />
<line x1="212.8" y1="1223.6" x2="226.7" y2="1213.0" stroke="#1ba7e6" stroke-width="1.5" />
<path d="M236.9,1205.3 L227.0,1218.8 L221.2,1211.1 Z" fill="#1ba7e6" stroke="none" stroke-width="1" />
<path d="M379.1,1102.5 L391.8,1091.7 L395.7,1100.5 Z" fill="#1ba7e6" stroke="none" stroke-width="1" />
<line x1="390.8" y1="1097.4" x2="410.0" y2="1088.9" stroke="#1ba7e6" stroke-width="1.5" />
<path d="M421.7,1083.8 L409.0,1094.6 L405.1,1085.8 Z" fill="#1ba7e6" stroke="none" stroke-width="1" />
<path d="M326.2,1178.3 L335.4,1164.4 L341.6,1171.7 Z" fill="#1ba7e6" stroke="none" stroke-width="1" />
<line x1="336.0" y1="1170.1" x2="354.9" y2="1154.3" stroke="#1ba7e6" stroke-width="1.5" />
<path d="M364.7,1146.1 L355.5,1160.0 L349.3,1152.7 Z" fill="#1ba7e6" stroke="none" stroke-width="1" />
<path d="M546.4,1057.8 L556.0,1044.2 L562.0,1051.7 Z" fill="#1ba7e6" stroke="none" stroke-width="1" />
<line x1="556.5" y1="1049.9" x2="578.9" y2="1032.4" stroke="#1ba7e6" stroke-width="1.5" />
<path d="M589.0,1024.5 L579.4,1038.1 L573.4,1030.6 Z" fill="#1ba7e6" stroke="none" stroke-width="1" />
<path d="M472.6,1109.7 L488.4,1115.1 L482.8,1122.9 Z" fill="#1ba7e6" stroke="none" stroke-width="1" />
<line x1="483.0" y1="1117.2" x2="502.7" y2="1131.3" stroke="#1ba7e6" stroke-width="1.5" />
<path d="M513.1,1138.8 L497.3,1133.4 L502.9,1125.6 Z" fill="#1ba7e6" stroke="none" stroke-width="1" />
<path d="M42.6,1237.1 L59.1,1234.7 L57.7,1244.2 Z" fill="#1ba7e6" stroke="none" stroke-width="1" />
<line x1="55.3" y1="1238.9" x2="189.9" y2="1258.6" stroke="#1ba7e6" stroke-width="1.5" />
<path d="M202.6,1260.4 L186.1,1262.8 L187.5,1253.3 Z" fill="#1ba7e6" stroke="none" stroke-width="1" />
<path d="M41.9,1276.6 L58.4,1274.2 L57.0,1283.7 Z" fill="#1ba7e6" stroke="none" stroke-width="1" />
<line x1="54.6" y1="1278.4" x2="515.6" y2="1345.6" stroke="#1ba7e6" stroke-width="1.5" />
<path d="M528.3,1347.4 L511.8,1349.8 L513.2,1340.3 Z" fill="#1ba7e6" stroke="none" stroke-width="1" />
<path d="M51.7,1322.2 L68.2,1319.8 L66.8,1329.3 Z" fill="#1ba7e6" stroke="none" stroke-width="1" />
<line x1="64.4" y1="1324.1" x2="688.0" y2="1415.3" stroke="#1ba7e6" stroke-width="1.5" />
<path d="M700.7,1417.2 L684.2,1419.6 L685.6,1410.1 Z" fill="#1ba7e6" stroke="none" stroke-width="1" />
<path d="M789.1,1296.1 L795.4,1311.6 L785.8,1312.5 Z" fill="#1ba7e6" stroke="none" stroke-width="1" />
<line x1="790.3" y1="1308.8" x2="792.1" y2="1328.1" stroke="#1ba7e6" stroke-width="1.5" />
<path d="M793.3,1340.8 L787.0,1325.3 L796.6,1324.4 Z" fill="#1ba7e6" stroke="none" stroke-width="1" />
<polyline points="793.3,1340.8 800.5,1376.1 881.6,1380.3" fill="none" stroke="#3a8edb" stroke-width="1.2" />
<line x1="31.2" y1="1200.0" x2="51.7" y2="1329.2" stroke="#222" stroke-width="1" />
<line x1="197.4" y1="1232.3" x2="205.7" y2="1279.0" stroke="#222" stroke-width="1" />
<line x1="522.7" y1="1278.9" x2="538.0" y2="1383.7" stroke="#222" stroke-width="1" />
<line x1="688.3" y1="1318.0" x2="702.1" y2="1420.0" stroke="#222" stroke-width="1" />
<line x1="734.0" y1="1286.8" x2="824.4" y2="1301.7" stroke="#222" stroke-width="1" />
<line x1="688.3" y1="1318.0" x2="825.5" y2="1340.8" stroke="#222" stroke-width="1" />
<text x="94.5" y="1090" font-size="42" fill="#1ba7e6" font-weight="bold" font-style="italic" stroke="#1ba7e6" stroke-width="0.9" text-anchor="middle" transform="rotate(-36 94.5 1090)" dy="13.9">10</text>
<text x="164.2" y="1102.5" font-size="42" fill="#1ba7e6" font-weight="bold" font-style="italic" stroke="#1ba7e6" stroke-width="0.9" text-anchor="middle" transform="rotate(-36 164.2 1102.5)" dy="13.9">14</text>
<text x="280.5" y="1063" font-size="42" fill="#1ba7e6" font-weight="bold" font-style="italic" stroke="#1ba7e6" stroke-width="0.9" text-anchor="middle" transform="rotate(-36 280.5 1063)" dy="13.9">24</text>
<text x="212" y="1200" font-size="42" fill="#1ba7e6" font-weight="bold" font-style="italic" stroke="#1ba7e6" stroke-width="0.9" text-anchor="middle" transform="rotate(-12 212 1200)" dy="13.9">3</text>
<text x="390.7" y="1065" font-size="42" fill="#1ba7e6" font-weight="bold" font-style="italic" stroke="#1ba7e6" stroke-width="0.9" text-anchor="middle" transform="rotate(-12 390.7 1065)" dy="13.9">3</text>
<text x="309.6" y="1146" font-size="40" fill="#1ba7e6" font-weight="bold" font-style="italic" stroke="#1ba7e6" stroke-width="0.9" text-anchor="middle" transform="rotate(-36 309.6 1146)" dy="13.2">4</text>
<text x="533.9" y="1024.5" font-size="40" fill="#1ba7e6" font-weight="bold" font-style="italic" stroke="#1ba7e6" stroke-width="0.9" text-anchor="middle" transform="rotate(-36 533.9 1024.5)" dy="13.2">4</text>
<text x="516.2" y="1105.6" font-size="38" fill="#1ba7e6" font-weight="bold" font-style="italic" stroke="#1ba7e6" stroke-width="0.9" text-anchor="middle" transform="rotate(52 516.2 1105.6)" dy="12.5">4</text>
<text x="116.4" y="1225" font-size="42" fill="#1ba7e6" font-weight="bold" font-style="italic" stroke="#1ba7e6" stroke-width="0.9" text-anchor="middle" transform="rotate(9 116.4 1225)" dy="13.9">10</text>
<text x="266.9" y="1294.3" font-size="42" fill="#1ba7e6" font-weight="bold" font-style="italic" stroke="#1ba7e6" stroke-width="0.9" text-anchor="middle" transform="rotate(9 266.9 1294.3)" dy="13.9">50</text>
<text x="341" y="1341.8" font-size="42" fill="#1ba7e6" font-weight="bold" font-style="italic" stroke="#1ba7e6" stroke-width="0.9" text-anchor="middle" transform="rotate(9 341 1341.8)" dy="13.9">60</text>
<text x="829.6" y="1369.9" font-size="46" fill="#00aeef" font-weight="bold">1</text>
<text x="853.0" y="1436.8" font-size="42" fill="#00aeef" font-weight="bold" textLength="167.7" lengthAdjust="spacingAndGlyphs">unit: mm</text>
<path d="M844.7,1449.4 L859.7,1443.9 L859.7,1454.9 Z" fill="#00aeef" stroke="none" stroke-width="1" />
<line x1="856.7" y1="1449.4" x2="1013.8" y2="1449.4" stroke="#00aeef" stroke-width="2" />
<path d="M1025.8,1449.4 L1010.8,1454.9 L1010.8,1443.9 Z" fill="#00aeef" stroke="none" stroke-width="1" />
<text x="827.5" y="1296.1" font-size="55" fill="#000" font-weight="bold" textLength="215.0" lengthAdjust="spacingAndGlyphs">Hindlegs</text>
<line x1="960.5" y1="1111.2" x2="1110.0" y2="1083.0" stroke="#5b9bd5" stroke-width="3" stroke-dasharray="15 9"/>
<line x1="949.1" y1="1128.8" x2="1118.0" y2="1253.0" stroke="#5b9bd5" stroke-width="3" stroke-dasharray="15 9"/>
<circle cx="948.1" cy="1116.4" r="13" fill="#0a6fc2" stroke="#4a8fd0" stroke-width="1.5"/>
</g>
<g id="p4_magnet">
<rect x="1968.8" y="811.0" width="50.2" height="662.0" fill="#000" />
<g filter="url(#blurS)">
<path d="M1127.8,1075.6 A31.8,93.5 0 0 0 1127.8,1262.6" fill="none" stroke="#555" stroke-width="2.2"/>
<path d="M1127.8,1075.6 A31.8,93.5 0 0 1 1127.8,1262.6" fill="none" stroke="#555" stroke-width="1.6" stroke-dasharray="3 3"/>
<ellipse cx="1453.9" cy="1169.1" rx="31.8" ry="93.5" fill="none" stroke="#555" stroke-width="2.2"/>
<line x1="1127.8" y1="1075.6" x2="1453.9" y2="1075.6" stroke="#555" stroke-width="2.2" />
<line x1="1127.8" y1="1262.6" x2="1453.9" y2="1262.6" stroke="#555" stroke-width="2.2" />
<path d="M1606.7,1078.3 A30.5,92.4 0 0 0 1606.7,1263.1000000000001" fill="none" stroke="#555" stroke-width="2.2"/>
<path d="M1606.7,1078.3 A30.5,92.4 0 0 1 1606.7,1263.1000000000001" fill="none" stroke="#555" stroke-width="1.6" stroke-dasharray="3 3"/>
<ellipse cx="1922.5" cy="1170.7" rx="30.5" ry="92.4" fill="none" stroke="#555" stroke-width="2.2"/>
<line x1="1606.7" y1="1078.3" x2="1922.5" y2="1078.3" stroke="#555" stroke-width="2.2" />
<line x1="1606.7" y1="1263.1" x2="1922.5" y2="1263.1" stroke="#555" stroke-width="2.2" />
<ellipse cx="1187.0" cy="1119.1" rx="15" ry="7.6" fill="none" stroke="#3a3a3a" stroke-width="1.8" transform="rotate(38 1187.0 1119.1)"/>
<line x1="1193.0" y1="1114.1" x2="1201.6" y2="1107.8" stroke="#2c5aa8" stroke-width="2.8" />
<path d="M1205.7,1104.8 L1202.1,1112.6 L1197.1,1105.9 Z" fill="#2c5aa8" stroke="none" stroke-width="1" />
<ellipse cx="1244.1" cy="1126.5" rx="16" ry="6.5" fill="none" stroke="#3a3a3a" stroke-width="1.8" transform="rotate(0 1244.1 1126.5)"/>
<line x1="1244.1" y1="1120.0" x2="1244.1" y2="1110.4" stroke="#2c5aa8" stroke-width="2.8" />
<path d="M1244.1,1105.4 L1248.3,1112.9 L1239.9,1112.9 Z" fill="#2c5aa8" stroke="none" stroke-width="1" />
<ellipse cx="1301.3" cy="1126.5" rx="15.5" ry="7" fill="none" stroke="#3a3a3a" stroke-width="1.8" transform="rotate(18 1301.3 1126.5)"/>
<line x1="1303.9" y1="1120.0" x2="1307.5" y2="1109.5" stroke="#2c5aa8" stroke-width="2.8" />
<path d="M1309.1,1104.8 L1310.7,1113.2 L1302.7,1110.5 Z" fill="#2c5aa8" stroke="none" stroke-width="1" />
<ellipse cx="1365.2" cy="1127.2" rx="15.5" ry="7" fill="none" stroke="#3a3a3a" stroke-width="1.8" transform="rotate(-14 1365.2 1127.2)"/>
<line x1="1363.7" y1="1121.1" x2="1358.9" y2="1110.6" stroke="#2c5aa8" stroke-width="2.8" />
<path d="M1356.8,1106.1 L1363.7,1111.1 L1356.1,1114.7 Z" fill="#2c5aa8" stroke="none" stroke-width="1" />
<ellipse cx="1189.1" cy="1225.7" rx="15.5" ry="7" fill="none" stroke="#3a3a3a" stroke-width="1.8" transform="rotate(12 1189.1 1225.7)"/>
<line x1="1192.0" y1="1219.1" x2="1194.5" y2="1208.8" stroke="#2c5aa8" stroke-width="2.8" />
<path d="M1195.7,1203.9 L1198.0,1212.2 L1189.8,1210.2 Z" fill="#2c5aa8" stroke="none" stroke-width="1" />
<ellipse cx="1243.0" cy="1226.5" rx="6.5" ry="16.5" fill="none" stroke="#3a3a3a" stroke-width="1.8" transform="rotate(12 1243.0 1226.5)"/>
<line x1="1249.6" y1="1227.2" x2="1261.7" y2="1230.8" stroke="#2c5aa8" stroke-width="2.8" />
<path d="M1266.5,1232.2 L1258.1,1234.1 L1260.5,1226.0 Z" fill="#2c5aa8" stroke="none" stroke-width="1" />
<ellipse cx="1303.9" cy="1227.8" rx="5.4" ry="17" fill="none" stroke="#3a3a3a" stroke-width="1.8" transform="rotate(0 1303.9 1227.8)"/>
<line x1="1310.9" y1="1227.8" x2="1322.4" y2="1227.8" stroke="#2c5aa8" stroke-width="2.8" />
<path d="M1327.4,1227.8 L1319.9,1232.0 L1319.9,1223.6 Z" fill="#2c5aa8" stroke="none" stroke-width="1" />
<ellipse cx="1370.2" cy="1227.2" rx="16" ry="7" fill="none" stroke="#3a3a3a" stroke-width="1.8" transform="rotate(4 1370.2 1227.2)"/>
<line x1="1372.4" y1="1220.0" x2="1373.8" y2="1210.6" stroke="#2c5aa8" stroke-width="2.8" />
<path d="M1374.6,1205.7 L1377.6,1213.7 L1369.3,1212.4 Z" fill="#2c5aa8" stroke="none" stroke-width="1" />
<ellipse cx="1670.9" cy="1119.6" rx="5.6" ry="17" fill="none" stroke="#3a3a3a" stroke-width="1.8" transform="rotate(0 1670.9 1119.6)"/>
<line x1="1676.9" y1="1119.6" x2="1689.9" y2="1119.6" stroke="#2c5aa8" stroke-width="2.8" />
<path d="M1694.9,1119.6 L1687.4,1123.8 L1687.4,1115.4 Z" fill="#2c5aa8" stroke="none" stroke-width="1" />
<ellipse cx="1722.6" cy="1119.6" rx="5.6" ry="17" fill="none" stroke="#3a3a3a" stroke-width="1.8" transform="rotate(0 1722.6 1119.6)"/>
<line x1="1728.6" y1="1119.6" x2="1741.6" y2="1119.6" stroke="#2c5aa8" stroke-width="2.8" />
<path d="M1746.6,1119.6 L1739.1,1123.8 L1739.1,1115.4 Z" fill="#2c5aa8" stroke="none" stroke-width="1" />
<ellipse cx="1777.4" cy="1121.0" rx="5.6" ry="17" fill="none" stroke="#3a3a3a" stroke-width="1.8" transform="rotate(0 1777.4 1121.0)"/>
<line x1="1783.4" y1="1121.0" x2="1796.4" y2="1121.0" stroke="#2c5aa8" stroke-width="2.8" />
<path d="M1801.4,1121.0 L1793.9,1125.2 L1793.9,1116.8 Z" fill="#2c5aa8" stroke="none" stroke-width="1" />
<ellipse cx="1832.8" cy="1120.0" rx="5.6" ry="17" fill="none" stroke="#3a3a3a" stroke-width="1.8" transform="rotate(0 1832.8 1120.0)"/>
<line x1="1838.8" y1="1120.0" x2="1851.8" y2="1120.0" stroke="#2c5aa8" stroke-width="2.8" />
<path d="M1856.8,1120.0 L1849.3,1124.2 L1849.3,1115.8 Z" fill="#2c5aa8" stroke="none" stroke-width="1" />
<ellipse cx="1672.0" cy="1227.8" rx="5.6" ry="17" fill="none" stroke="#3a3a3a" stroke-width="1.8" transform="rotate(0 1672.0 1227.8)"/>
<line x1="1678.0" y1="1227.8" x2="1691.0" y2="1227.8" stroke="#2c5aa8" stroke-width="2.8" />
<path d="M1696.0,1227.8 L1688.5,1232.0 L1688.5,1223.6 Z" fill="#2c5aa8" stroke="none" stroke-width="1" />
<ellipse cx="1725.2" cy="1227.8" rx="5.6" ry="17" fill="none" stroke="#3a3a3a" stroke-width="1.8" transform="rotate(0 1725.2 1227.8)"/>
<line x1="1731.2" y1="1227.8" x2="1744.2" y2="1227.8" stroke="#2c5aa8" stroke-width="2.8" />
<path d="M1749.2,1227.8 L1741.7,1232.0 L1741.7,1223.6 Z" fill="#2c5aa8" stroke="none" stroke-width="1" />
<ellipse cx="1776.7" cy="1228.5" rx="5.6" ry="17" fill="none" stroke="#3a3a3a" stroke-width="1.8" transform="rotate(0 1776.7 1228.5)"/>
<line x1="1782.7" y1="1228.5" x2="1795.7" y2="1228.5" stroke="#2c5aa8" stroke-width="2.8" />
<path d="M1800.7,1228.5 L1793.2,1232.7 L1793.2,1224.3 Z" fill="#2c5aa8" stroke="none" stroke-width="1" />
<ellipse cx="1835.7" cy="1227.8" rx="5.6" ry="17" fill="none" stroke="#3a3a3a" stroke-width="1.8" transform="rotate(0 1835.7 1227.8)"/>
<line x1="1841.7" y1="1227.8" x2="1854.7" y2="1227.8" stroke="#2c5aa8" stroke-width="2.8" />
<path d="M1859.7,1227.8 L1852.2,1232.0 L1852.2,1223.6 Z" fill="#2c5aa8" stroke="none" stroke-width="1" />
</g>
<path d="M1202.8,1103.2 L1282.5,1023 H1178.7 A12,12 0 0 1 1166.7,1011 V952.9 A12,12 0 0 1 1178.7,940.9 H1892 A12,12 0 0 1 1904,952.9 V1011 A12,12 0 0 1 1892,1023 H1469.8 L1202.8,1103.2" fill="none" stroke="#0bb050" stroke-width="5.2" stroke-dasharray="22.8 17.6" stroke-linejoin="round" stroke-dashoffset="-14.5"/>
<path d="M1362.6,1112 L1490.9,1386 H1424.8 A12,12 0 0 0 1412.8,1398 V1454.8 A12,12 0 0 0 1424.8,1466.8 H1854.2 A12,12 0 0 0 1866.2,1454.8 V1398 A12,12 0 0 0 1854.2,1386 H1599.6 L1362.6,1112" fill="none" stroke="#0bb050" stroke-width="5.2" stroke-dasharray="22.8 17.6" stroke-linejoin="round" stroke-dashoffset="-10"/>
<text x="1187.0" y="996.6" font-size="56" fill="#f00" font-weight="bold" textLength="698.0" lengthAdjust="spacingAndGlyphs">Magnetic Distance Direction</text>
<text x="1422.6" y="1441.0" font-size="56" fill="#f00" font-weight="bold" textLength="435.7" lengthAdjust="spacingAndGlyphs">Magnetic Domain</text>
<text x="1098.3" y="1336.0" font-size="56" fill="#000" font-weight="bold" textLength="351.0" lengthAdjust="spacingAndGlyphs">Unmagnetized</text>
<text x="1627.8" y="1336.0" font-size="56" fill="#000" font-weight="bold" textLength="284.7" lengthAdjust="spacingAndGlyphs">Magnetized</text>
<text x="1579.0" y="1188.0" font-size="56" fill="#f00" font-weight="bold" textLength="39.5" lengthAdjust="spacingAndGlyphs">N</text>
<text x="1911.5" y="1190.0" font-size="56" fill="#f00" font-weight="bold" textLength="30.0" lengthAdjust="spacingAndGlyphs">S</text>
</g>
<g id="p5_photos">
<clipPath id="clip1"><rect x="54.5" y="1464" width="482.5" height="129.5"/></clipPath>
<g clip-path="url(#clip1)"><g filter="url(#blurP)">
<linearGradient id="sh1" x1="0" y1="0" x2="0" y2="1"><stop offset="0" stop-color="#d7d4d5"/><stop offset="1" stop-color="#c4c1c2"/></linearGradient>
<rect x="49.5" y="1459.0" width="492.5" height="139.5" fill="#eee8e6" />
<rect x="49.5" y="1459.0" width="111.4" height="106.0" fill="#2c2020" />
<rect x="160.9" y="1459.0" width="24.1" height="56.0" fill="#dcd8d7" />
<rect x="461.0" y="1459.0" width="21.7" height="56.0" fill="#e2dedc" />
<rect x="482.7" y="1459.0" width="59.3" height="52.0" fill="#2c2020" />
<rect x="60.0" y="1464.0" width="60.0" height="70.0" fill="#3a2625" />
<path d="M542.0,1510.0 L160.9,1510.0 L136.0,1512.0 L113.0,1522.0 L87.0,1537.0 L54.5,1550.0 L49.5,1550.0 L49.5,1598.5 L542.0,1598.5 Z" fill="url(#sh1)" stroke="none" stroke-width="1" />
</g></g>
<g filter="url(#blurR)">
<path d="M124.0,1550.0 Q230.0,1552.0 333.0,1557.0" fill="none" stroke="#77777a" stroke-width="2.2" stroke-linecap="round" stroke-linejoin="round"/>
<path d="M127.0,1556.0 Q230.0,1560.0 300.0,1560.0" fill="none" stroke="#555" stroke-width="2.4" stroke-linecap="round" stroke-linejoin="round"/>
<path d="M185.0,1565.0 Q235.0,1561.0 290.0,1558.0" fill="none" stroke="#6a6a6c" stroke-width="2" stroke-linecap="round" stroke-linejoin="round"/>
<path d="M288.0,1560.0 L333.0,1558.0" fill="none" stroke="#555" stroke-width="2.4" stroke-linecap="round" stroke-linejoin="round"/>
<path d="M222.0,1550.0 L285.0,1552.0" fill="none" stroke="#e0e0e0" stroke-width="3" stroke-linecap="round" stroke-linejoin="round"/>
</g>
<rect x="54.5" y="1464" width="482.5" height="129.5" fill="none" stroke="#111" stroke-width="1.3"/>
<line x1="48.0" y1="1568.0" x2="537.0" y2="1568.0" stroke="#e02020" stroke-width="1.6" />
<line x1="123.2" y1="1461.0" x2="123.2" y2="1626.0" stroke="#e02020" stroke-width="1.6" />
<text x="6.4" y="1571.8" font-size="17.5" fill="#000" font-weight="bold" textLength="36.0" lengthAdjust="spacingAndGlyphs">300</text>
<line x1="46.0" y1="1568.0" x2="54.0" y2="1568.0" stroke="#111" stroke-width="1.5" />
<line x1="97.7" y1="1593.5" x2="97.7" y2="1600.5" stroke="#111" stroke-width="1.3" />
<line x1="185.6" y1="1593.5" x2="185.6" y2="1600.5" stroke="#111" stroke-width="1.3" />
<line x1="273.5" y1="1593.5" x2="273.5" y2="1600.5" stroke="#111" stroke-width="1.3" />
<line x1="361.4" y1="1593.5" x2="361.4" y2="1600.5" stroke="#111" stroke-width="1.3" />
<line x1="449.3" y1="1593.5" x2="449.3" y2="1600.5" stroke="#111" stroke-width="1.3" />
<line x1="537.2" y1="1593.5" x2="537.2" y2="1600.5" stroke="#111" stroke-width="1.3" />
<line x1="53.8" y1="1593.5" x2="53.8" y2="1597.3" stroke="#111" stroke-width="1.2" />
<line x1="141.7" y1="1593.5" x2="141.7" y2="1597.3" stroke="#111" stroke-width="1.2" />
<line x1="229.6" y1="1593.5" x2="229.6" y2="1597.3" stroke="#111" stroke-width="1.2" />
<line x1="317.5" y1="1593.5" x2="317.5" y2="1597.3" stroke="#111" stroke-width="1.2" />
<line x1="405.4" y1="1593.5" x2="405.4" y2="1597.3" stroke="#111" stroke-width="1.2" />
<line x1="493.3" y1="1593.5" x2="493.3" y2="1597.3" stroke="#111" stroke-width="1.2" />
<text x="80.5" y="1622.5" font-size="17.5" fill="#000" font-weight="bold" textLength="34.5" lengthAdjust="spacingAndGlyphs">200</text>
<text x="168.4" y="1622.5" font-size="17.5" fill="#000" font-weight="bold" textLength="34.5" lengthAdjust="spacingAndGlyphs">300</text>
<text x="256.2" y="1622.5" font-size="17.5" fill="#000" font-weight="bold" textLength="34.5" lengthAdjust="spacingAndGlyphs">400</text>
<text x="344.2" y="1622.5" font-size="17.5" fill="#000" font-weight="bold" textLength="34.5" lengthAdjust="spacingAndGlyphs">500</text>
<text x="432.1" y="1622.5" font-size="17.5" fill="#000" font-weight="bold" textLength="34.5" lengthAdjust="spacingAndGlyphs">600</text>
<text x="520.0" y="1622.5" font-size="17.5" fill="#000" font-weight="bold" textLength="34.5" lengthAdjust="spacingAndGlyphs">700</text>
<text x="156.0" y="1533.5" font-size="21" fill="#000" font-weight="bold" textLength="51.6" lengthAdjust="spacingAndGlyphs">t=5s</text>
<clipPath id="clip2"><rect x="601.5" y="1463.5" width="487.3" height="133.5"/></clipPath>
<g clip-path="url(#clip2)"><g filter="url(#blurP)">
<linearGradient id="sh2" x1="0" y1="0" x2="0" y2="1"><stop offset="0" stop-color="#d7d4d5"/><stop offset="1" stop-color="#c4c1c2"/></linearGradient>
<rect x="596.5" y="1458.5" width="497.3" height="143.5" fill="#eee8e6" />
<rect x="596.5" y="1458.5" width="117.5" height="103.5" fill="#2c2020" />
<rect x="714.0" y="1458.5" width="25.6" height="53.5" fill="#dcd8d7" />
<rect x="1032.3" y="1458.5" width="22.5" height="53.5" fill="#e2dedc" />
<rect x="1054.8" y="1458.5" width="39.0" height="50.0" fill="#2c2020" />
<rect x="620.0" y="1463.0" width="55.0" height="60.0" fill="#3d2a28" />
<path d="M1093.8,1507.0 L714.0,1507.0 L700.0,1510.0 L678.0,1519.0 L639.0,1540.0 L601.5,1553.6 L596.5,1553.6 L596.5,1602.0 L1093.8,1602.0 Z" fill="url(#sh2)" stroke="none" stroke-width="1" />
</g></g>
<g filter="url(#blurR)">
<path d="M733.0,1551.0 Q815.0,1524.0 835.0,1530.0" fill="none" stroke="#5a5a5c" stroke-width="2.6" stroke-linecap="round" stroke-linejoin="round"/>
<path d="M738.0,1557.0 Q825.0,1528.0 840.0,1533.0" fill="none" stroke="#444" stroke-width="2.6" stroke-linecap="round" stroke-linejoin="round"/>
<path d="M745.0,1563.0 Q830.0,1534.0 850.0,1538.0" fill="none" stroke="#666" stroke-width="2.4" stroke-linecap="round" stroke-linejoin="round"/>
<path d="M832.0,1530.0 Q880.0,1536.0 950.0,1559.0" fill="none" stroke="#555" stroke-width="2.6" stroke-linecap="round" stroke-linejoin="round"/>
<path d="M840.0,1536.0 Q890.0,1545.0 948.0,1561.0" fill="none" stroke="#3a3a3a" stroke-width="2.8" stroke-linecap="round" stroke-linejoin="round"/>
<path d="M760.0,1566.0 Q850.0,1563.0 930.0,1560.0" fill="none" stroke="#8a8a8c" stroke-width="1.8" stroke-linecap="round" stroke-linejoin="round"/>
<path d="M735.0,1548.0 L762.0,1538.0" fill="none" stroke="#333" stroke-width="3" stroke-linecap="round" stroke-linejoin="round"/>
<path d="M742.0,1560.0 L770.0,1548.0" fill="none" stroke="#333" stroke-width="3" stroke-linecap="round" stroke-linejoin="round"/>
</g>
<rect x="601.5" y="1463.5" width="487.3" height="133.5" fill="none" stroke="#111" stroke-width="1.3"/>
<line x1="592.5" y1="1570.7" x2="1088.8" y2="1570.7" stroke="#e02020" stroke-width="1.6" />
<line x1="730.6" y1="1461.4" x2="730.6" y2="1607.6" stroke="#e02020" stroke-width="1.6" />
<text x="551.4" y="1576.0" font-size="18" fill="#000" font-weight="bold" textLength="37.0" lengthAdjust="spacingAndGlyphs">300</text>
<line x1="588.0" y1="1570.7" x2="601.0" y2="1570.7" stroke="#111" stroke-width="1.5" />
<line x1="649.6" y1="1597.0" x2="649.6" y2="1605.0" stroke="#111" stroke-width="1.3" />
<line x1="747.0" y1="1597.0" x2="747.0" y2="1605.0" stroke="#111" stroke-width="1.3" />
<line x1="844.3" y1="1597.0" x2="844.3" y2="1605.0" stroke="#111" stroke-width="1.3" />
<line x1="941.6" y1="1597.0" x2="941.6" y2="1605.0" stroke="#111" stroke-width="1.3" />
<line x1="1039.0" y1="1597.0" x2="1039.0" y2="1605.0" stroke="#111" stroke-width="1.3" />
<line x1="601.5" y1="1597.0" x2="601.5" y2="1601.4" stroke="#111" stroke-width="1.2" />
<line x1="698.9" y1="1597.0" x2="698.9" y2="1601.4" stroke="#111" stroke-width="1.2" />
<line x1="796.2" y1="1597.0" x2="796.2" y2="1601.4" stroke="#111" stroke-width="1.2" />
<line x1="893.5" y1="1597.0" x2="893.5" y2="1601.4" stroke="#111" stroke-width="1.2" />
<line x1="990.9" y1="1597.0" x2="990.9" y2="1601.4" stroke="#111" stroke-width="1.2" />
<line x1="1088.2" y1="1597.0" x2="1088.2" y2="1601.4" stroke="#111" stroke-width="1.2" />
<text x="630.1" y="1627.0" font-size="18.5" fill="#000" font-weight="bold" textLength="39.0" lengthAdjust="spacingAndGlyphs">300</text>
<text x="727.5" y="1627.0" font-size="18.5" fill="#000" font-weight="bold" textLength="39.0" lengthAdjust="spacingAndGlyphs">400</text>
<text x="824.8" y="1627.0" font-size="18.5" fill="#000" font-weight="bold" textLength="39.0" lengthAdjust="spacingAndGlyphs">500</text>
<text x="922.1" y="1627.0" font-size="18.5" fill="#000" font-weight="bold" textLength="39.0" lengthAdjust="spacingAndGlyphs">600</text>
<text x="1019.5" y="1627.0" font-size="18.5" fill="#000" font-weight="bold" textLength="39.0" lengthAdjust="spacingAndGlyphs">700</text>
<text x="812.6" y="1519.6" font-size="21.5" fill="#000" font-weight="bold" textLength="56.7" lengthAdjust="spacingAndGlyphs">t=8s</text>
<rect x="1093.3" y="1477.0" width="12.7" height="147.0" fill="#000" />
<rect x="1064.2" y="1450.0" width="3.2" height="11.0" fill="#000" />
<clipPath id="clip3"><rect x="54.5" y="1629.3" width="481.8" height="135.7"/></clipPath>
<g clip-path="url(#clip3)"><g filter="url(#blurP)">
<linearGradient id="sh3" x1="0" y1="0" x2="0" y2="1"><stop offset="0" stop-color="#cfcdce"/><stop offset="1" stop-color="#c0bebf"/></linearGradient>
<rect x="49.5" y="1624.3" width="491.8" height="145.7" fill="#f3efed" />
<rect x="49.5" y="1624.3" width="86.8" height="120.3" fill="#2c2020" />
<rect x="136.3" y="1624.3" width="20.2" height="70.3" fill="#dcd8d7" />
<rect x="388.5" y="1624.3" width="18.8" height="70.3" fill="#e2dedc" />
<rect x="407.3" y="1624.3" width="134.0" height="66.7" fill="#2c2020" />
<rect x="54.0" y="1632.0" width="68.0" height="17.0" fill="#c9b9a4" />
<rect x="66.0" y="1650.0" width="45.0" height="40.0" fill="#4a3535" />
<rect x="423.0" y="1632.0" width="70.0" height="19.0" fill="#c9b9a4" />
<rect x="425.0" y="1652.0" width="60.0" height="38.0" fill="#4a3535" />
<rect x="490.0" y="1632.0" width="7.0" height="58.0" fill="#cfcac6" />
<rect x="510.0" y="1632.0" width="6.0" height="58.0" fill="#bcb6b2" />
<path d="M541.3,1689.6 L136.3,1689.6 L120.0,1693.0 L100.0,1699.0 L75.0,1711.0 L54.5,1721.5 L49.5,1721.5 L49.5,1770.0 L541.3,1770.0 Z" fill="url(#sh3)" stroke="none" stroke-width="1" />
</g></g>
<g filter="url(#blurR)">
<path d="M195.7,1714.0 Q215.0,1736.0 240.6,1739.0" fill="none" stroke="#6a6a6c" stroke-width="2" stroke-linecap="round" stroke-linejoin="round"/>
<path d="M203.0,1718.0 Q222.0,1733.0 245.0,1735.0" fill="none" stroke="#555" stroke-width="2" stroke-linecap="round" stroke-linejoin="round"/>
<path d="M240.0,1738.0 Q300.0,1740.0 336.3,1698.3" fill="none" stroke="#777" stroke-width="2" stroke-linecap="round" stroke-linejoin="round"/>
<path d="M245.0,1735.0 Q310.0,1738.0 360.9,1708.4" fill="none" stroke="#666" stroke-width="2" stroke-linecap="round" stroke-linejoin="round"/>
<path d="M235.0,1730.0 Q285.0,1722.0 330.0,1733.0" fill="none" stroke="#808082" stroke-width="1.8" stroke-linecap="round" stroke-linejoin="round"/>
</g>
<rect x="54.5" y="1629.3" width="481.8" height="135.7" fill="none" stroke="#111" stroke-width="1.3"/>
<line x1="50.7" y1="1738.6" x2="458.0" y2="1738.6" stroke="#e02020" stroke-width="1.6" />
<line x1="193.4" y1="1628.0" x2="193.4" y2="1776.5" stroke="#e02020" stroke-width="1.6" />
<text x="5.2" y="1745.0" font-size="18" fill="#000" font-weight="bold" textLength="34.0" lengthAdjust="spacingAndGlyphs">300</text>
<line x1="49.0" y1="1738.6" x2="54.5" y2="1738.6" stroke="#111" stroke-width="1.5" />
<line x1="55.0" y1="1765.0" x2="55.0" y2="1772.0" stroke="#111" stroke-width="1.3" />
<line x1="115.0" y1="1765.0" x2="115.0" y2="1772.0" stroke="#111" stroke-width="1.3" />
<line x1="174.9" y1="1765.0" x2="174.9" y2="1772.0" stroke="#111" stroke-width="1.3" />
<line x1="234.9" y1="1765.0" x2="234.9" y2="1772.0" stroke="#111" stroke-width="1.3" />
<line x1="294.9" y1="1765.0" x2="294.9" y2="1772.0" stroke="#111" stroke-width="1.3" />
<line x1="354.9" y1="1765.0" x2="354.9" y2="1772.0" stroke="#111" stroke-width="1.3" />
<line x1="414.8" y1="1765.0" x2="414.8" y2="1772.0" stroke="#111" stroke-width="1.3" />
<line x1="474.8" y1="1765.0" x2="474.8" y2="1772.0" stroke="#111" stroke-width="1.3" />
<line x1="534.8" y1="1765.0" x2="534.8" y2="1772.0" stroke="#111" stroke-width="1.3" />
<line x1="85.0" y1="1765.0" x2="85.0" y2="1768.8" stroke="#111" stroke-width="1.2" />
<line x1="145.0" y1="1765.0" x2="145.0" y2="1768.8" stroke="#111" stroke-width="1.2" />
<line x1="204.9" y1="1765.0" x2="204.9" y2="1768.8" stroke="#111" stroke-width="1.2" />
<line x1="264.9" y1="1765.0" x2="264.9" y2="1768.8" stroke="#111" stroke-width="1.2" />
<line x1="324.9" y1="1765.0" x2="324.9" y2="1768.8" stroke="#111" stroke-width="1.2" />
<line x1="384.9" y1="1765.0" x2="384.9" y2="1768.8" stroke="#111" stroke-width="1.2" />
<line x1="444.8" y1="1765.0" x2="444.8" y2="1768.8" stroke="#111" stroke-width="1.2" />
<line x1="504.8" y1="1765.0" x2="504.8" y2="1768.8" stroke="#111" stroke-width="1.2" />
<text x="37.5" y="1796.3" font-size="18" fill="#000" font-weight="bold" textLength="35.0" lengthAdjust="spacingAndGlyphs">300</text>
<text x="97.5" y="1796.3" font-size="18" fill="#000" font-weight="bold" textLength="35.0" lengthAdjust="spacingAndGlyphs">400</text>
<text x="157.4" y="1796.3" font-size="18" fill="#000" font-weight="bold" textLength="35.0" lengthAdjust="spacingAndGlyphs">500</text>
<text x="217.4" y="1796.3" font-size="18" fill="#000" font-weight="bold" textLength="35.0" lengthAdjust="spacingAndGlyphs">600</text>
<text x="277.4" y="1796.3" font-size="18" fill="#000" font-weight="bold" textLength="35.0" lengthAdjust="spacingAndGlyphs">700</text>
<text x="337.4" y="1796.3" font-size="18" fill="#000" font-weight="bold" textLength="35.0" lengthAdjust="spacingAndGlyphs">800</text>
<text x="397.3" y="1796.3" font-size="18" fill="#000" font-weight="bold" textLength="35.0" lengthAdjust="spacingAndGlyphs">900</text>
<text x="451.8" y="1796.3" font-size="18" fill="#000" font-weight="bold" textLength="46.0" lengthAdjust="spacingAndGlyphs">1000</text>
<text x="511.8" y="1796.3" font-size="18" fill="#000" font-weight="bold" textLength="46.0" lengthAdjust="spacingAndGlyphs">1100</text>
<text x="234.8" y="1687.3" font-size="21.5" fill="#000" font-weight="bold" textLength="68.2" lengthAdjust="spacingAndGlyphs">t=11s</text>
<clipPath id="clip4"><rect x="598.5" y="1632" width="487.9" height="136.6"/></clipPath>
<g clip-path="url(#clip4)"><g filter="url(#blurP)">
<linearGradient id="sh4" x1="0" y1="0" x2="0" y2="1"><stop offset="0" stop-color="#d3d1d2"/><stop offset="1" stop-color="#c2c0c1"/></linearGradient>
<rect x="593.5" y="1627.0" width="497.9" height="146.6" fill="#f0ecea" />
<rect x="593.5" y="1627.0" width="95.1" height="111.0" fill="#2c2020" />
<rect x="688.6" y="1627.0" width="22.4" height="61.0" fill="#dcd8d7" />
<rect x="952.8" y="1627.0" width="18.0" height="61.0" fill="#e2dedc" />
<rect x="970.8" y="1627.0" width="120.6" height="57.5" fill="#2c2020" />
<rect x="598.0" y="1633.0" width="74.0" height="18.0" fill="#c9b9a4" />
<rect x="606.0" y="1652.0" width="52.0" height="30.0" fill="#4a3535" />
<rect x="987.0" y="1633.0" width="75.0" height="17.0" fill="#c9b9a4" />
<rect x="990.0" y="1652.0" width="70.0" height="30.0" fill="#4a3535" />
<rect x="1064.0" y="1633.0" width="8.0" height="50.0" fill="#cfcac6" />
<rect x="1078.0" y="1633.0" width="6.0" height="50.0" fill="#bcb6b2" />
<path d="M1091.4,1683.0 L688.6,1683.0 L675.0,1686.0 L660.0,1690.5 L630.0,1706.0 L598.5,1723.6 L593.5,1723.6 L593.5,1773.6 L1091.4,1773.6 Z" fill="url(#sh4)" stroke="none" stroke-width="1" />
</g></g>
<g filter="url(#blurR)">
<path d="M784.0,1724.0 Q845.0,1702.0 861.0,1706.0" fill="none" stroke="#555" stroke-width="2.6" stroke-linecap="round" stroke-linejoin="round"/>
<path d="M788.0,1731.0 Q850.0,1706.0 868.0,1710.0" fill="none" stroke="#444" stroke-width="2.6" stroke-linecap="round" stroke-linejoin="round"/>
<path d="M793.0,1737.0 Q855.0,1712.0 875.0,1714.0" fill="none" stroke="#666" stroke-width="2.4" stroke-linecap="round" stroke-linejoin="round"/>
<path d="M860.0,1706.0 Q905.0,1712.0 960.0,1735.0" fill="none" stroke="#555" stroke-width="2.6" stroke-linecap="round" stroke-linejoin="round"/>
<path d="M868.0,1711.0 Q915.0,1720.0 958.0,1737.0" fill="none" stroke="#3a3a3a" stroke-width="2.8" stroke-linecap="round" stroke-linejoin="round"/>
<path d="M800.0,1741.0 Q870.0,1738.0 940.0,1736.0" fill="none" stroke="#8a8a8c" stroke-width="1.8" stroke-linecap="round" stroke-linejoin="round"/>
<path d="M785.0,1722.0 L812.0,1712.0" fill="none" stroke="#333" stroke-width="3" stroke-linecap="round" stroke-linejoin="round"/>
<path d="M790.0,1734.0 L818.0,1722.0" fill="none" stroke="#333" stroke-width="3" stroke-linecap="round" stroke-linejoin="round"/>
</g>
<rect x="598.5" y="1632" width="487.9" height="136.6" fill="none" stroke="#111" stroke-width="1.3"/>
<line x1="594.0" y1="1740.7" x2="955.8" y2="1740.7" stroke="#e02020" stroke-width="1.6" />
<line x1="782.6" y1="1632.0" x2="782.6" y2="1788.0" stroke="#e02020" stroke-width="1.6" />
<text x="562.5" y="1746.0" font-size="18" fill="#000" font-weight="bold" textLength="23.0" lengthAdjust="spacingAndGlyphs">00</text>
<line x1="592.0" y1="1740.7" x2="598.5" y2="1740.7" stroke="#111" stroke-width="1.5" />
<line x1="628.6" y1="1768.6" x2="628.6" y2="1775.6" stroke="#111" stroke-width="1.3" />
<line x1="685.6" y1="1768.6" x2="685.6" y2="1775.6" stroke="#111" stroke-width="1.3" />
<line x1="742.7" y1="1768.6" x2="742.7" y2="1775.6" stroke="#111" stroke-width="1.3" />
<line x1="799.7" y1="1768.6" x2="799.7" y2="1775.6" stroke="#111" stroke-width="1.3" />
<line x1="856.8" y1="1768.6" x2="856.8" y2="1775.6" stroke="#111" stroke-width="1.3" />
<line x1="913.8" y1="1768.6" x2="913.8" y2="1775.6" stroke="#111" stroke-width="1.3" />
<line x1="970.8" y1="1768.6" x2="970.8" y2="1775.6" stroke="#111" stroke-width="1.3" />
<line x1="1027.9" y1="1768.6" x2="1027.9" y2="1775.6" stroke="#111" stroke-width="1.3" />
<line x1="1084.9" y1="1768.6" x2="1084.9" y2="1775.6" stroke="#111" stroke-width="1.3" />
<line x1="600.0" y1="1768.6" x2="600.0" y2="1772.4" stroke="#111" stroke-width="1.2" />
<line x1="657.0" y1="1768.6" x2="657.0" y2="1772.4" stroke="#111" stroke-width="1.2" />
<line x1="714.1" y1="1768.6" x2="714.1" y2="1772.4" stroke="#111" stroke-width="1.2" />
<line x1="771.1" y1="1768.6" x2="771.1" y2="1772.4" stroke="#111" stroke-width="1.2" />
<line x1="828.2" y1="1768.6" x2="828.2" y2="1772.4" stroke="#111" stroke-width="1.2" />
<line x1="885.2" y1="1768.6" x2="885.2" y2="1772.4" stroke="#111" stroke-width="1.2" />
<line x1="942.2" y1="1768.6" x2="942.2" y2="1772.4" stroke="#111" stroke-width="1.2" />
<line x1="999.3" y1="1768.6" x2="999.3" y2="1772.4" stroke="#111" stroke-width="1.2" />
<line x1="1056.3" y1="1768.6" x2="1056.3" y2="1772.4" stroke="#111" stroke-width="1.2" />
<text x="611.6" y="1799.5" font-size="18" fill="#000" font-weight="bold" textLength="34.0" lengthAdjust="spacingAndGlyphs">400</text>
<text x="668.6" y="1799.5" font-size="18" fill="#000" font-weight="bold" textLength="34.0" lengthAdjust="spacingAndGlyphs">500</text>
<text x="725.7" y="1799.5" font-size="18" fill="#000" font-weight="bold" textLength="34.0" lengthAdjust="spacingAndGlyphs">600</text>
<text x="782.7" y="1799.5" font-size="18" fill="#000" font-weight="bold" textLength="34.0" lengthAdjust="spacingAndGlyphs">700</text>
<text x="839.8" y="1799.5" font-size="18" fill="#000" font-weight="bold" textLength="34.0" lengthAdjust="spacingAndGlyphs">800</text>
<text x="896.8" y="1799.5" font-size="18" fill="#000" font-weight="bold" textLength="34.0" lengthAdjust="spacingAndGlyphs">900</text>
<text x="948.8" y="1799.5" font-size="18" fill="#000" font-weight="bold" textLength="44.0" lengthAdjust="spacingAndGlyphs">1000</text>
<text x="1005.9" y="1799.5" font-size="18" fill="#000" font-weight="bold" textLength="44.0" lengthAdjust="spacingAndGlyphs">1100</text>
<text x="1062.9" y="1799.5" font-size="18" fill="#000" font-weight="bold" textLength="44.0" lengthAdjust="spacingAndGlyphs">1200</text>
<text x="806.6" y="1677.6" font-size="21.5" fill="#000" font-weight="bold" textLength="65.7" lengthAdjust="spacingAndGlyphs">t=14s</text>
<clipPath id="clip5"><rect x="46.4" y="1811.8" width="493.4" height="127.6"/></clipPath>
<g clip-path="url(#clip5)"><g filter="url(#blurP)">
<linearGradient id="sh5" x1="0" y1="0" x2="0" y2="1"><stop offset="0" stop-color="#dedbde"/><stop offset="1" stop-color="#d2cfd3"/></linearGradient>
<rect x="41.4" y="1806.8" width="503.4" height="137.6" fill="#ffffff" />
<rect x="41.4" y="1806.8" width="49.9" height="107.0" fill="#5a403f" />
<rect x="91.3" y="1806.8" width="21.7" height="57.0" fill="#dcd8d7" />
<rect x="411.7" y="1806.8" width="23.2" height="57.0" fill="#e2dedc" />
<rect x="434.9" y="1806.8" width="109.9" height="56.2" fill="#5d4341" />
<rect x="76.0" y="1811.0" width="16.0" height="48.0" fill="#2a2020" />
<rect x="434.0" y="1811.0" width="12.0" height="52.0" fill="#221a1a" />
<path d="M544.8,1858.8 L91.3,1858.8 L80.0,1861.0 L64.0,1866.0 L46.4,1873.3 L41.4,1873.3 L41.4,1944.4 L544.8,1944.4 Z" fill="url(#sh5)" stroke="none" stroke-width="1" />
<rect x="40.0" y="1927.5" width="505.0" height="14.0" fill="#cdc2c7" />
</g></g>
<g filter="url(#blurR)">
<path d="M265.0,1906.0 Q310.0,1888.0 359.5,1886.0" fill="none" stroke="#666" stroke-width="2.2" stroke-linecap="round" stroke-linejoin="round"/>
<path d="M268.0,1911.0 Q320.0,1893.0 365.0,1890.0" fill="none" stroke="#555" stroke-width="2.2" stroke-linecap="round" stroke-linejoin="round"/>
<path d="M283.0,1918.0 Q330.0,1898.0 372.0,1895.0" fill="none" stroke="#777" stroke-width="2" stroke-linecap="round" stroke-linejoin="round"/>
<path d="M359.0,1886.0 Q420.0,1892.0 469.6,1914.4" fill="none" stroke="#666" stroke-width="2.2" stroke-linecap="round" stroke-linejoin="round"/>
<path d="M365.0,1891.0 Q420.0,1900.0 462.0,1914.0" fill="none" stroke="#555" stroke-width="2.2" stroke-linecap="round" stroke-linejoin="round"/>
<path d="M290.0,1912.0 Q370.0,1900.0 440.0,1910.0" fill="none" stroke="#909092" stroke-width="1.6" stroke-linecap="round" stroke-linejoin="round"/>
</g>
<rect x="46.4" y="1811.8" width="493.4" height="127.6" fill="none" stroke="#111" stroke-width="1.3"/>
<line x1="43.5" y1="1914.4" x2="539.8" y2="1914.4" stroke="#e02020" stroke-width="1.6" />
<line x1="261.8" y1="1806.0" x2="261.8" y2="1964.6" stroke="#e02020" stroke-width="1.6" />
<text x="5.8" y="1916.0" font-size="18" fill="#000" font-weight="bold" textLength="35.5" lengthAdjust="spacingAndGlyphs">300</text>
<line x1="69.6" y1="1939.4" x2="69.6" y2="1946.4" stroke="#111" stroke-width="1.3" />
<line x1="163.2" y1="1939.4" x2="163.2" y2="1946.4" stroke="#111" stroke-width="1.3" />
<line x1="256.9" y1="1939.4" x2="256.9" y2="1946.4" stroke="#111" stroke-width="1.3" />
<line x1="350.5" y1="1939.4" x2="350.5" y2="1946.4" stroke="#111" stroke-width="1.3" />
<line x1="444.2" y1="1939.4" x2="444.2" y2="1946.4" stroke="#111" stroke-width="1.3" />
<line x1="537.8" y1="1939.4" x2="537.8" y2="1946.4" stroke="#111" stroke-width="1.3" />
<line x1="116.4" y1="1939.4" x2="116.4" y2="1943.2" stroke="#111" stroke-width="1.2" />
<line x1="210.0" y1="1939.4" x2="210.0" y2="1943.2" stroke="#111" stroke-width="1.2" />
<line x1="303.7" y1="1939.4" x2="303.7" y2="1943.2" stroke="#111" stroke-width="1.2" />
<line x1="397.3" y1="1939.4" x2="397.3" y2="1943.2" stroke="#111" stroke-width="1.2" />
<line x1="491.0" y1="1939.4" x2="491.0" y2="1943.2" stroke="#111" stroke-width="1.2" />
<text x="52.1" y="1969.0" font-size="18" fill="#000" font-weight="bold" textLength="35.0" lengthAdjust="spacingAndGlyphs">400</text>
<text x="145.7" y="1969.0" font-size="18" fill="#000" font-weight="bold" textLength="35.0" lengthAdjust="spacingAndGlyphs">600</text>
<text x="239.4" y="1969.0" font-size="18" fill="#000" font-weight="bold" textLength="35.0" lengthAdjust="spacingAndGlyphs">800</text>
<text x="327.5" y="1969.0" font-size="18" fill="#000" font-weight="bold" textLength="46.0" lengthAdjust="spacingAndGlyphs">1000</text>
<text x="421.2" y="1969.0" font-size="18" fill="#000" font-weight="bold" textLength="46.0" lengthAdjust="spacingAndGlyphs">1200</text>
<text x="514.8" y="1969.0" font-size="18" fill="#000" font-weight="bold" textLength="46.0" lengthAdjust="spacingAndGlyphs">1400</text>
<text x="300.0" y="1856.5" font-size="21.5" fill="#000" font-weight="bold" textLength="66.7" lengthAdjust="spacingAndGlyphs">t=17s</text>
<clipPath id="clip6"><rect x="599.4" y="1811.5" width="490.6" height="130.5"/></clipPath>
<g clip-path="url(#clip6)"><g filter="url(#blurP)">
<linearGradient id="sh6" x1="0" y1="0" x2="0" y2="1"><stop offset="0" stop-color="#d2cfcf"/><stop offset="1" stop-color="#c6c3c3"/></linearGradient>
<rect x="594.4" y="1806.5" width="500.6" height="140.5" fill="#efe8e5" />
<rect x="594.4" y="1806.5" width="37.2" height="98.5" fill="#2c2020" />
<rect x="631.6" y="1806.5" width="25.4" height="48.5" fill="#dcd8d7" />
<rect x="939.3" y="1806.5" width="22.5" height="48.5" fill="#e2dedc" />
<rect x="961.8" y="1806.5" width="133.2" height="42.5" fill="#2c2020" />
<rect x="1068.0" y="1811.0" width="14.0" height="40.0" fill="#8a7468" />
<path d="M1095.0,1850.0 L631.6,1850.0 L620.0,1853.0 L599.4,1858.0 L594.4,1858.0 L594.4,1947.0 L1095.0,1947.0 Z" fill="url(#sh6)" stroke="none" stroke-width="1" />
</g></g>
<g filter="url(#blurR)">
<path d="M879.0,1879.0 Q890.0,1895.0 936.0,1911.0" fill="none" stroke="#666" stroke-width="2" stroke-linecap="round" stroke-linejoin="round"/>
<path d="M888.0,1882.0 Q905.0,1897.0 945.0,1909.0" fill="none" stroke="#777" stroke-width="2" stroke-linecap="round" stroke-linejoin="round"/>
<path d="M895.0,1884.0 Q915.0,1896.0 950.0,1904.0" fill="none" stroke="#555" stroke-width="2" stroke-linecap="round" stroke-linejoin="round"/>
<path d="M936.0,1911.0 Q1000.0,1912.0 1080.0,1906.0" fill="none" stroke="#555" stroke-width="2.4" stroke-linecap="round" stroke-linejoin="round"/>
<path d="M945.0,1905.0 Q1000.0,1902.0 1060.0,1896.0" fill="none" stroke="#777" stroke-width="2" stroke-linecap="round" stroke-linejoin="round"/>
<path d="M960.0,1899.0 L990.0,1897.0" fill="none" stroke="#e6e6e6" stroke-width="3" stroke-linecap="round" stroke-linejoin="round"/>
<path d="M1020.0,1900.0 Q1050.0,1893.0 1080.0,1900.0" fill="none" stroke="#444" stroke-width="4" stroke-linecap="round" stroke-linejoin="round"/>
</g>
<rect x="599.4" y="1811.5" width="490.6" height="130.5" fill="none" stroke="#111" stroke-width="1.3"/>
<line x1="594.0" y1="1913.0" x2="1090.0" y2="1913.0" stroke="#e02020" stroke-width="1.6" />
<line x1="879.2" y1="1807.0" x2="879.2" y2="1964.6" stroke="#e02020" stroke-width="1.6" />
<text x="558.6" y="1920.5" font-size="18" fill="#000" font-weight="bold" textLength="33.0" lengthAdjust="spacingAndGlyphs">300</text>
<line x1="591.0" y1="1913.0" x2="599.4" y2="1913.0" stroke="#111" stroke-width="1.5" />
<line x1="643.6" y1="1942.0" x2="643.6" y2="1949.0" stroke="#111" stroke-width="1.3" />
<line x1="732.2" y1="1942.0" x2="732.2" y2="1949.0" stroke="#111" stroke-width="1.3" />
<line x1="820.7" y1="1942.0" x2="820.7" y2="1949.0" stroke="#111" stroke-width="1.3" />
<line x1="909.3" y1="1942.0" x2="909.3" y2="1949.0" stroke="#111" stroke-width="1.3" />
<line x1="997.8" y1="1942.0" x2="997.8" y2="1949.0" stroke="#111" stroke-width="1.3" />
<line x1="1086.4" y1="1942.0" x2="1086.4" y2="1949.0" stroke="#111" stroke-width="1.3" />
<line x1="599.4" y1="1942.0" x2="599.4" y2="1945.8" stroke="#111" stroke-width="1.2" />
<line x1="688.0" y1="1942.0" x2="688.0" y2="1945.8" stroke="#111" stroke-width="1.2" />
<line x1="776.5" y1="1942.0" x2="776.5" y2="1945.8" stroke="#111" stroke-width="1.2" />
<line x1="865.1" y1="1942.0" x2="865.1" y2="1945.8" stroke="#111" stroke-width="1.2" />
<line x1="953.6" y1="1942.0" x2="953.6" y2="1945.8" stroke="#111" stroke-width="1.2" />
<line x1="1042.2" y1="1942.0" x2="1042.2" y2="1945.8" stroke="#111" stroke-width="1.2" />
<text x="626.6" y="1970.6" font-size="18" fill="#000" font-weight="bold" textLength="34.0" lengthAdjust="spacingAndGlyphs">400</text>
<text x="715.2" y="1970.6" font-size="18" fill="#000" font-weight="bold" textLength="34.0" lengthAdjust="spacingAndGlyphs">600</text>
<text x="803.7" y="1970.6" font-size="18" fill="#000" font-weight="bold" textLength="34.0" lengthAdjust="spacingAndGlyphs">800</text>
<text x="887.3" y="1970.6" font-size="18" fill="#000" font-weight="bold" textLength="44.0" lengthAdjust="spacingAndGlyphs">1000</text>
<text x="975.8" y="1970.6" font-size="18" fill="#000" font-weight="bold" textLength="44.0" lengthAdjust="spacingAndGlyphs">1200</text>
<text x="1064.4" y="1970.6" font-size="18" fill="#000" font-weight="bold" textLength="44.0" lengthAdjust="spacingAndGlyphs">1400</text>
<text x="915.5" y="1858.8" font-size="21.5" fill="#000" font-weight="bold" textLength="62.0" lengthAdjust="spacingAndGlyphs">t=20s</text>
<rect x="0.0" y="1625.3" width="548.0" height="1.4" fill="#000" />
<rect x="0.0" y="1803.5" width="548.0" height="2.4" fill="#000" />
<rect x="567.0" y="1805.6" width="539.0" height="1.3" fill="#000" />
<rect x="0.0" y="1461.0" width="4.0" height="165.0" fill="#000" />
<rect x="0.0" y="1626.0" width="2.4" height="179.0" fill="#000" />
<rect x="0.0" y="1805.0" width="4.6" height="170.0" fill="#000" />
<rect x="0.0" y="1971.8" width="558.0" height="41.0" fill="#000" />
<rect x="558.0" y="1977.5" width="548.0" height="35.0" fill="#000" />
<rect x="548.5" y="1600.0" width="10.0" height="30.0" fill="#fff" />
<rect x="548.5" y="1780.0" width="12.0" height="22.0" fill="#fff" />
</g>
<g id="p6_velocity">
<rect x="1969.0" y="1460.0" width="50.0" height="13.8" fill="#000" />
<rect x="2009.3" y="1473.0" width="9.7" height="540.0" fill="#000" />
<rect x="2014.1" y="0.0" width="4.9" height="812.0" fill="#000" />
<rect x="1100.0" y="1477.2" width="5.8" height="147.0" fill="#000" />
<rect x="1100.0" y="1978.0" width="5.7" height="34.0" fill="#000" />
<line x1="1233.7" y1="1517.6" x2="1833.0" y2="1666.0" stroke="#0000ff" stroke-width="1.8" />
<line x1="1233.7" y1="1513.0" x2="1233.7" y2="1541.0" stroke="#444" stroke-width="1.1" />
<line x1="1229.1" y1="1513.0" x2="1238.3" y2="1513.0" stroke="#444" stroke-width="1.1" />
<line x1="1229.1" y1="1541.0" x2="1238.3" y2="1541.0" stroke="#444" stroke-width="1.1" />
<rect x="1229.0" y="1522.8" width="9.4" height="9.4" fill="#000" />
<line x1="1353.5" y1="1530.6" x2="1353.5" y2="1558.4" stroke="#444" stroke-width="1.1" />
<line x1="1348.9" y1="1530.6" x2="1358.1" y2="1530.6" stroke="#444" stroke-width="1.1" />
<line x1="1348.9" y1="1558.4" x2="1358.1" y2="1558.4" stroke="#444" stroke-width="1.1" />
<rect x="1348.8" y="1539.8" width="9.4" height="9.4" fill="#000" />
<line x1="1473.4" y1="1559.4" x2="1473.4" y2="1586.5" stroke="#444" stroke-width="1.1" />
<line x1="1468.8" y1="1559.4" x2="1478.0" y2="1559.4" stroke="#444" stroke-width="1.1" />
<line x1="1468.8" y1="1586.5" x2="1478.0" y2="1586.5" stroke="#444" stroke-width="1.1" />
<rect x="1468.7" y="1568.4" width="9.4" height="9.4" fill="#000" />
<line x1="1593.3" y1="1583.0" x2="1593.3" y2="1609.5" stroke="#444" stroke-width="1.1" />
<line x1="1588.7" y1="1583.0" x2="1597.9" y2="1583.0" stroke="#444" stroke-width="1.1" />
<line x1="1588.7" y1="1609.5" x2="1597.9" y2="1609.5" stroke="#444" stroke-width="1.1" />
<rect x="1588.6" y="1591.8" width="9.4" height="9.4" fill="#000" />
<line x1="1713.2" y1="1623.5" x2="1713.2" y2="1650.0" stroke="#444" stroke-width="1.1" />
<line x1="1708.6" y1="1623.5" x2="1717.8" y2="1623.5" stroke="#444" stroke-width="1.1" />
<line x1="1708.6" y1="1650.0" x2="1717.8" y2="1650.0" stroke="#444" stroke-width="1.1" />
<rect x="1708.5" y="1632.3" width="9.4" height="9.4" fill="#000" />
<line x1="1833.1" y1="1664.0" x2="1833.1" y2="1689.5" stroke="#444" stroke-width="1.1" />
<line x1="1828.5" y1="1664.0" x2="1837.7" y2="1664.0" stroke="#444" stroke-width="1.1" />
<line x1="1828.5" y1="1689.5" x2="1837.7" y2="1689.5" stroke="#444" stroke-width="1.1" />
<rect x="1828.4" y="1671.7" width="9.4" height="9.4" fill="#000" />
<rect x="1268.9" y="1624.5" width="478.0" height="221.0" fill="#fff" />
<g filter="url(#blurS)"><path d="M460,340 Q620,270 770,232 L900,405 L880,415 L775,280 Q640,320 500,385 Z" fill="#7c8593" transform="translate(1260 1610) scale(0.2588)"/>
<path d="M770,232 L790,250 L905,400 L880,410 Z" fill="#7c8593" transform="translate(1260 1610) scale(0.2588)"/>
<path d="M935,200 Q1100,195 1240,210 L1215,215 L1255,300 Q1100,240 975,248 Z" fill="#7c8593" transform="translate(1260 1610) scale(0.2588)"/>
<path d="M70,440 L365,218 L410,265 Q780,120 1130,128 L1150,88 Q1350,120 1460,215 L1590,380 Q1440,290 1275,262 L1240,210 Q1100,195 935,200 L1050,378 L900,405 L770,232 Q620,270 460,340 L535,400 L215,600 Z" fill="url(#archdk)" transform="translate(1260 1610) scale(0.2588)"/>
<path d="M215,600 L535,400 L535,425 L265,632 L215,618 Z" fill="#7c8593" transform="translate(1260 1610) scale(0.2588)"/>
<path d="M1215,215 L1280,258 L1250,300 L1210,255 Z" fill="#a3adbd" transform="translate(1260 1610) scale(0.2588)"/>
<path d="M1275,262 Q1440,290 1590,380 L1570,392 Q1440,320 1250,300 Z" fill="#7c8593" transform="translate(1260 1610) scale(0.2588)"/>
<path d="M650,590 Q900,470 1100,440 Q1300,425 1400,470 L1440,560 Q1300,470 1100,490 Q900,520 720,680 L690,625 Z" fill="#7c8593" transform="translate(1260 1610) scale(0.2588)"/>
<path d="M1400,475 L1465,520 L1440,560 L1400,500 Z" fill="#a3adbd" transform="translate(1260 1610) scale(0.2588)"/>
<path d="M1440,510 Q1620,540 1770,630 L1715,668 Q1600,590 1440,560 Z" fill="#7c8593" transform="translate(1260 1610) scale(0.2588)"/>
<path d="M390,860 L690,625 L722,680 L455,880 Z" fill="#7c8593" transform="translate(1260 1610) scale(0.2588)"/>
<path d="M1310,345 L1340,340 L1375,385 L1330,375 Z" fill="#a3adbd" transform="translate(1260 1610) scale(0.2588)"/>
<path d="M258,688 L555,465 L600,510 Q760,440 900,405 L1050,378 Q1200,370 1330,372 L1330,340 Q1520,380 1640,455 L1770,630 Q1620,540 1440,510 L1400,470 Q1300,425 1100,440 Q900,470 650,590 L690,625 L390,860 Z" fill="url(#archdk)" transform="translate(1260 1610) scale(0.2588)"/></g>
<polyline points="1353.5,1893.8 1473.4,1887.7 1593.3,1884.8 1713.2,1882.0 1833.1,1878.6" fill="none" stroke="#f03a3a" stroke-width="1.6" />
<line x1="1353.5" y1="1882.0" x2="1353.5" y2="1905.6" stroke="#666" stroke-width="1.1" />
<line x1="1348.9" y1="1882.0" x2="1358.1" y2="1882.0" stroke="#666" stroke-width="1.1" />
<line x1="1348.9" y1="1905.6" x2="1358.1" y2="1905.6" stroke="#666" stroke-width="1.1" />
<rect x="1349.0" y="1889.3" width="9.0" height="9.0" fill="#f03a3a" />
<line x1="1473.4" y1="1875.9" x2="1473.4" y2="1899.5" stroke="#666" stroke-width="1.1" />
<line x1="1468.8" y1="1875.9" x2="1478.0" y2="1875.9" stroke="#666" stroke-width="1.1" />
<line x1="1468.8" y1="1899.5" x2="1478.0" y2="1899.5" stroke="#666" stroke-width="1.1" />
<rect x="1468.9" y="1883.2" width="9.0" height="9.0" fill="#f03a3a" />
<line x1="1593.3" y1="1873.0" x2="1593.3" y2="1896.6" stroke="#666" stroke-width="1.1" />
<line x1="1588.7" y1="1873.0" x2="1597.9" y2="1873.0" stroke="#666" stroke-width="1.1" />
<line x1="1588.7" y1="1896.6" x2="1597.9" y2="1896.6" stroke="#666" stroke-width="1.1" />
<rect x="1588.8" y="1880.3" width="9.0" height="9.0" fill="#f03a3a" />
<line x1="1713.2" y1="1870.2" x2="1713.2" y2="1893.8" stroke="#666" stroke-width="1.1" />
<line x1="1708.6" y1="1870.2" x2="1717.8" y2="1870.2" stroke="#666" stroke-width="1.1" />
<line x1="1708.6" y1="1893.8" x2="1717.8" y2="1893.8" stroke="#666" stroke-width="1.1" />
<rect x="1708.7" y="1877.5" width="9.0" height="9.0" fill="#f03a3a" />
<line x1="1833.1" y1="1866.8" x2="1833.1" y2="1890.4" stroke="#666" stroke-width="1.1" />
<line x1="1828.5" y1="1866.8" x2="1837.7" y2="1866.8" stroke="#666" stroke-width="1.1" />
<line x1="1828.5" y1="1890.4" x2="1837.7" y2="1890.4" stroke="#666" stroke-width="1.1" />
<rect x="1828.6" y="1874.1" width="9.0" height="9.0" fill="#f03a3a" />
<rect x="1193.9" y="1486.8" width="679.1" height="459.4" fill="none" stroke="#111" stroke-width="1.7"/>
<line x1="1184.9" y1="1946.2" x2="1193.9" y2="1946.2" stroke="#111" stroke-width="1.5" />
<text transform="translate(1176.6 1951.5) scale(1.28 1)" font-size="15.5" fill="#1a1aff" text-anchor="end" >41</text>
<line x1="1184.9" y1="1888.8" x2="1193.9" y2="1888.8" stroke="#111" stroke-width="1.5" />
<text transform="translate(1176.6 1894.1) scale(1.28 1)" font-size="15.5" fill="#1a1aff" text-anchor="end" >42</text>
<line x1="1184.9" y1="1831.4" x2="1193.9" y2="1831.4" stroke="#111" stroke-width="1.5" />
<text transform="translate(1176.6 1836.7) scale(1.28 1)" font-size="15.5" fill="#1a1aff" text-anchor="end" >43</text>
<line x1="1184.9" y1="1773.9" x2="1193.9" y2="1773.9" stroke="#111" stroke-width="1.5" />
<text transform="translate(1176.6 1779.2) scale(1.28 1)" font-size="15.5" fill="#1a1aff" text-anchor="end" >44</text>
<line x1="1184.9" y1="1716.5" x2="1193.9" y2="1716.5" stroke="#111" stroke-width="1.5" />
<text transform="translate(1176.6 1721.8) scale(1.28 1)" font-size="15.5" fill="#1a1aff" text-anchor="end" >45</text>
<line x1="1184.9" y1="1659.1" x2="1193.9" y2="1659.1" stroke="#111" stroke-width="1.5" />
<text transform="translate(1176.6 1664.4) scale(1.28 1)" font-size="15.5" fill="#1a1aff" text-anchor="end" >46</text>
<line x1="1184.9" y1="1601.7" x2="1193.9" y2="1601.7" stroke="#111" stroke-width="1.5" />
<text transform="translate(1176.6 1607.0) scale(1.28 1)" font-size="15.5" fill="#1a1aff" text-anchor="end" >47</text>
<line x1="1184.9" y1="1544.3" x2="1193.9" y2="1544.3" stroke="#111" stroke-width="1.5" />
<text transform="translate(1176.6 1549.6) scale(1.28 1)" font-size="15.5" fill="#1a1aff" text-anchor="end" >48</text>
<line x1="1184.9" y1="1486.8" x2="1193.9" y2="1486.8" stroke="#111" stroke-width="1.5" />
<text transform="translate(1176.6 1492.1) scale(1.28 1)" font-size="15.5" fill="#1a1aff" text-anchor="end" >49</text>
<line x1="1189.4" y1="1917.5" x2="1193.9" y2="1917.5" stroke="#111" stroke-width="1.3" />
<line x1="1189.4" y1="1860.1" x2="1193.9" y2="1860.1" stroke="#111" stroke-width="1.3" />
<line x1="1189.4" y1="1802.7" x2="1193.9" y2="1802.7" stroke="#111" stroke-width="1.3" />
<line x1="1189.4" y1="1745.2" x2="1193.9" y2="1745.2" stroke="#111" stroke-width="1.3" />
<line x1="1189.4" y1="1687.8" x2="1193.9" y2="1687.8" stroke="#111" stroke-width="1.3" />
<line x1="1189.4" y1="1630.4" x2="1193.9" y2="1630.4" stroke="#111" stroke-width="1.3" />
<line x1="1189.4" y1="1573.0" x2="1193.9" y2="1573.0" stroke="#111" stroke-width="1.3" />
<line x1="1189.4" y1="1515.5" x2="1193.9" y2="1515.5" stroke="#111" stroke-width="1.3" />
<line x1="1193.7" y1="1946.2" x2="1193.7" y2="1952.7" stroke="#111" stroke-width="1.5" />
<text transform="translate(1193.7 1972.3) scale(1.3 1)" font-size="14.5" fill="#000" text-anchor="middle" >4</text>
<line x1="1273.6" y1="1946.2" x2="1273.6" y2="1952.7" stroke="#111" stroke-width="1.5" />
<text transform="translate(1273.6 1972.3) scale(1.3 1)" font-size="14.5" fill="#000" text-anchor="middle" >6</text>
<line x1="1353.5" y1="1946.2" x2="1353.5" y2="1952.7" stroke="#111" stroke-width="1.5" />
<text transform="translate(1353.5 1972.3) scale(1.3 1)" font-size="14.5" fill="#000" text-anchor="middle" >8</text>
<line x1="1433.5" y1="1946.2" x2="1433.5" y2="1952.7" stroke="#111" stroke-width="1.5" />
<text transform="translate(1433.5 1972.3) scale(1.3 1)" font-size="14.5" fill="#000" text-anchor="middle" >10</text>
<line x1="1513.4" y1="1946.2" x2="1513.4" y2="1952.7" stroke="#111" stroke-width="1.5" />
<text transform="translate(1513.4 1972.3) scale(1.3 1)" font-size="14.5" fill="#000" text-anchor="middle" >12</text>
<line x1="1593.3" y1="1946.2" x2="1593.3" y2="1952.7" stroke="#111" stroke-width="1.5" />
<text transform="translate(1593.3 1972.3) scale(1.3 1)" font-size="14.5" fill="#000" text-anchor="middle" >14</text>
<line x1="1673.2" y1="1946.2" x2="1673.2" y2="1952.7" stroke="#111" stroke-width="1.5" />
<text transform="translate(1673.2 1972.3) scale(1.3 1)" font-size="14.5" fill="#000" text-anchor="middle" >16</text>
<line x1="1753.1" y1="1946.2" x2="1753.1" y2="1952.7" stroke="#111" stroke-width="1.5" />
<text transform="translate(1753.1 1972.3) scale(1.3 1)" font-size="14.5" fill="#000" text-anchor="middle" >18</text>
<line x1="1833.1" y1="1946.2" x2="1833.1" y2="1952.7" stroke="#111" stroke-width="1.5" />
<text transform="translate(1833.1 1972.3) scale(1.3 1)" font-size="14.5" fill="#000" text-anchor="middle" >20</text>
<line x1="1233.7" y1="1946.2" x2="1233.7" y2="1949.6" stroke="#111" stroke-width="1.3" />
<line x1="1313.6" y1="1946.2" x2="1313.6" y2="1949.6" stroke="#111" stroke-width="1.3" />
<line x1="1393.5" y1="1946.2" x2="1393.5" y2="1949.6" stroke="#111" stroke-width="1.3" />
<line x1="1473.4" y1="1946.2" x2="1473.4" y2="1949.6" stroke="#111" stroke-width="1.3" />
<line x1="1553.3" y1="1946.2" x2="1553.3" y2="1949.6" stroke="#111" stroke-width="1.3" />
<line x1="1633.3" y1="1946.2" x2="1633.3" y2="1949.6" stroke="#111" stroke-width="1.3" />
<line x1="1713.2" y1="1946.2" x2="1713.2" y2="1949.6" stroke="#111" stroke-width="1.3" />
<line x1="1793.1" y1="1946.2" x2="1793.1" y2="1949.6" stroke="#111" stroke-width="1.3" />
<line x1="1873.0" y1="1530.4" x2="1881.0" y2="1530.4" stroke="#111" stroke-width="1.5" />
<text x="1890.0" y="1535.4" font-size="15" fill="#ff2020" textLength="83.0" lengthAdjust="spacingAndGlyphs">−0. 17214</text>
<line x1="1873.0" y1="1646.5" x2="1881.0" y2="1646.5" stroke="#111" stroke-width="1.5" />
<text x="1890.0" y="1651.5" font-size="15" fill="#ff2020" textLength="83.0" lengthAdjust="spacingAndGlyphs">−0. 17252</text>
<line x1="1873.0" y1="1762.5" x2="1881.0" y2="1762.5" stroke="#111" stroke-width="1.5" />
<text x="1890.0" y="1767.5" font-size="15" fill="#ff2020" textLength="83.0" lengthAdjust="spacingAndGlyphs">−0. 17290</text>
<line x1="1873.0" y1="1879.0" x2="1881.0" y2="1879.0" stroke="#111" stroke-width="1.5" />
<text x="1890.0" y="1884.0" font-size="15" fill="#ff2020" textLength="83.0" lengthAdjust="spacingAndGlyphs">−0. 17328</text>
<line x1="1873.0" y1="1588.4" x2="1877.5" y2="1588.4" stroke="#111" stroke-width="1.3" />
<line x1="1873.0" y1="1704.5" x2="1877.5" y2="1704.5" stroke="#111" stroke-width="1.3" />
<line x1="1873.0" y1="1820.6" x2="1877.5" y2="1820.6" stroke="#111" stroke-width="1.3" />
<line x1="1873.0" y1="1936.7" x2="1877.5" y2="1936.7" stroke="#111" stroke-width="1.3" />
<text x="1402.2" y="1536.6" font-size="17.5" fill="#000" font-weight="bold" textLength="356.0" lengthAdjust="spacingAndGlyphs" xml:space="preserve">y=-0.1733x+49.3333  R<tspan dy="-6" font-size="11">2</tspan><tspan dy="6">=0.97903</tspan></text>
<text x="1375.0" y="1922.6" font-size="17.5" fill="#000" font-weight="bold" textLength="396.7" lengthAdjust="spacingAndGlyphs" xml:space="preserve">y=4.3849×10<tspan dy="-6" font-size="11">-6</tspan><tspan dy="6">x-0.17336  R</tspan><tspan dy="-6" font-size="11">2</tspan><tspan dy="6">=0.97297</tspan></text>
<text x="1488.2" y="2001.9" font-size="19.8" fill="#000" font-weight="bold" textLength="89.3" lengthAdjust="spacingAndGlyphs">Time (s)</text>
<text transform="translate(1139.5 1786.0) rotate(-90) scale(1 1.4)" font-size="20.4" fill="#1a1aff" font-weight="bold" >Velocity (mm/s)</text>
<text transform="translate(2001.0 1803.0) rotate(-90) scale(1 1.3)" font-size="20.4" fill="#ff2020" font-weight="bold" >Acceleration (mm/s<tspan dy="-6" font-size="12">2</tspan><tspan dy="6">)</tspan></text>
</g>
</svg>
</body></html>
